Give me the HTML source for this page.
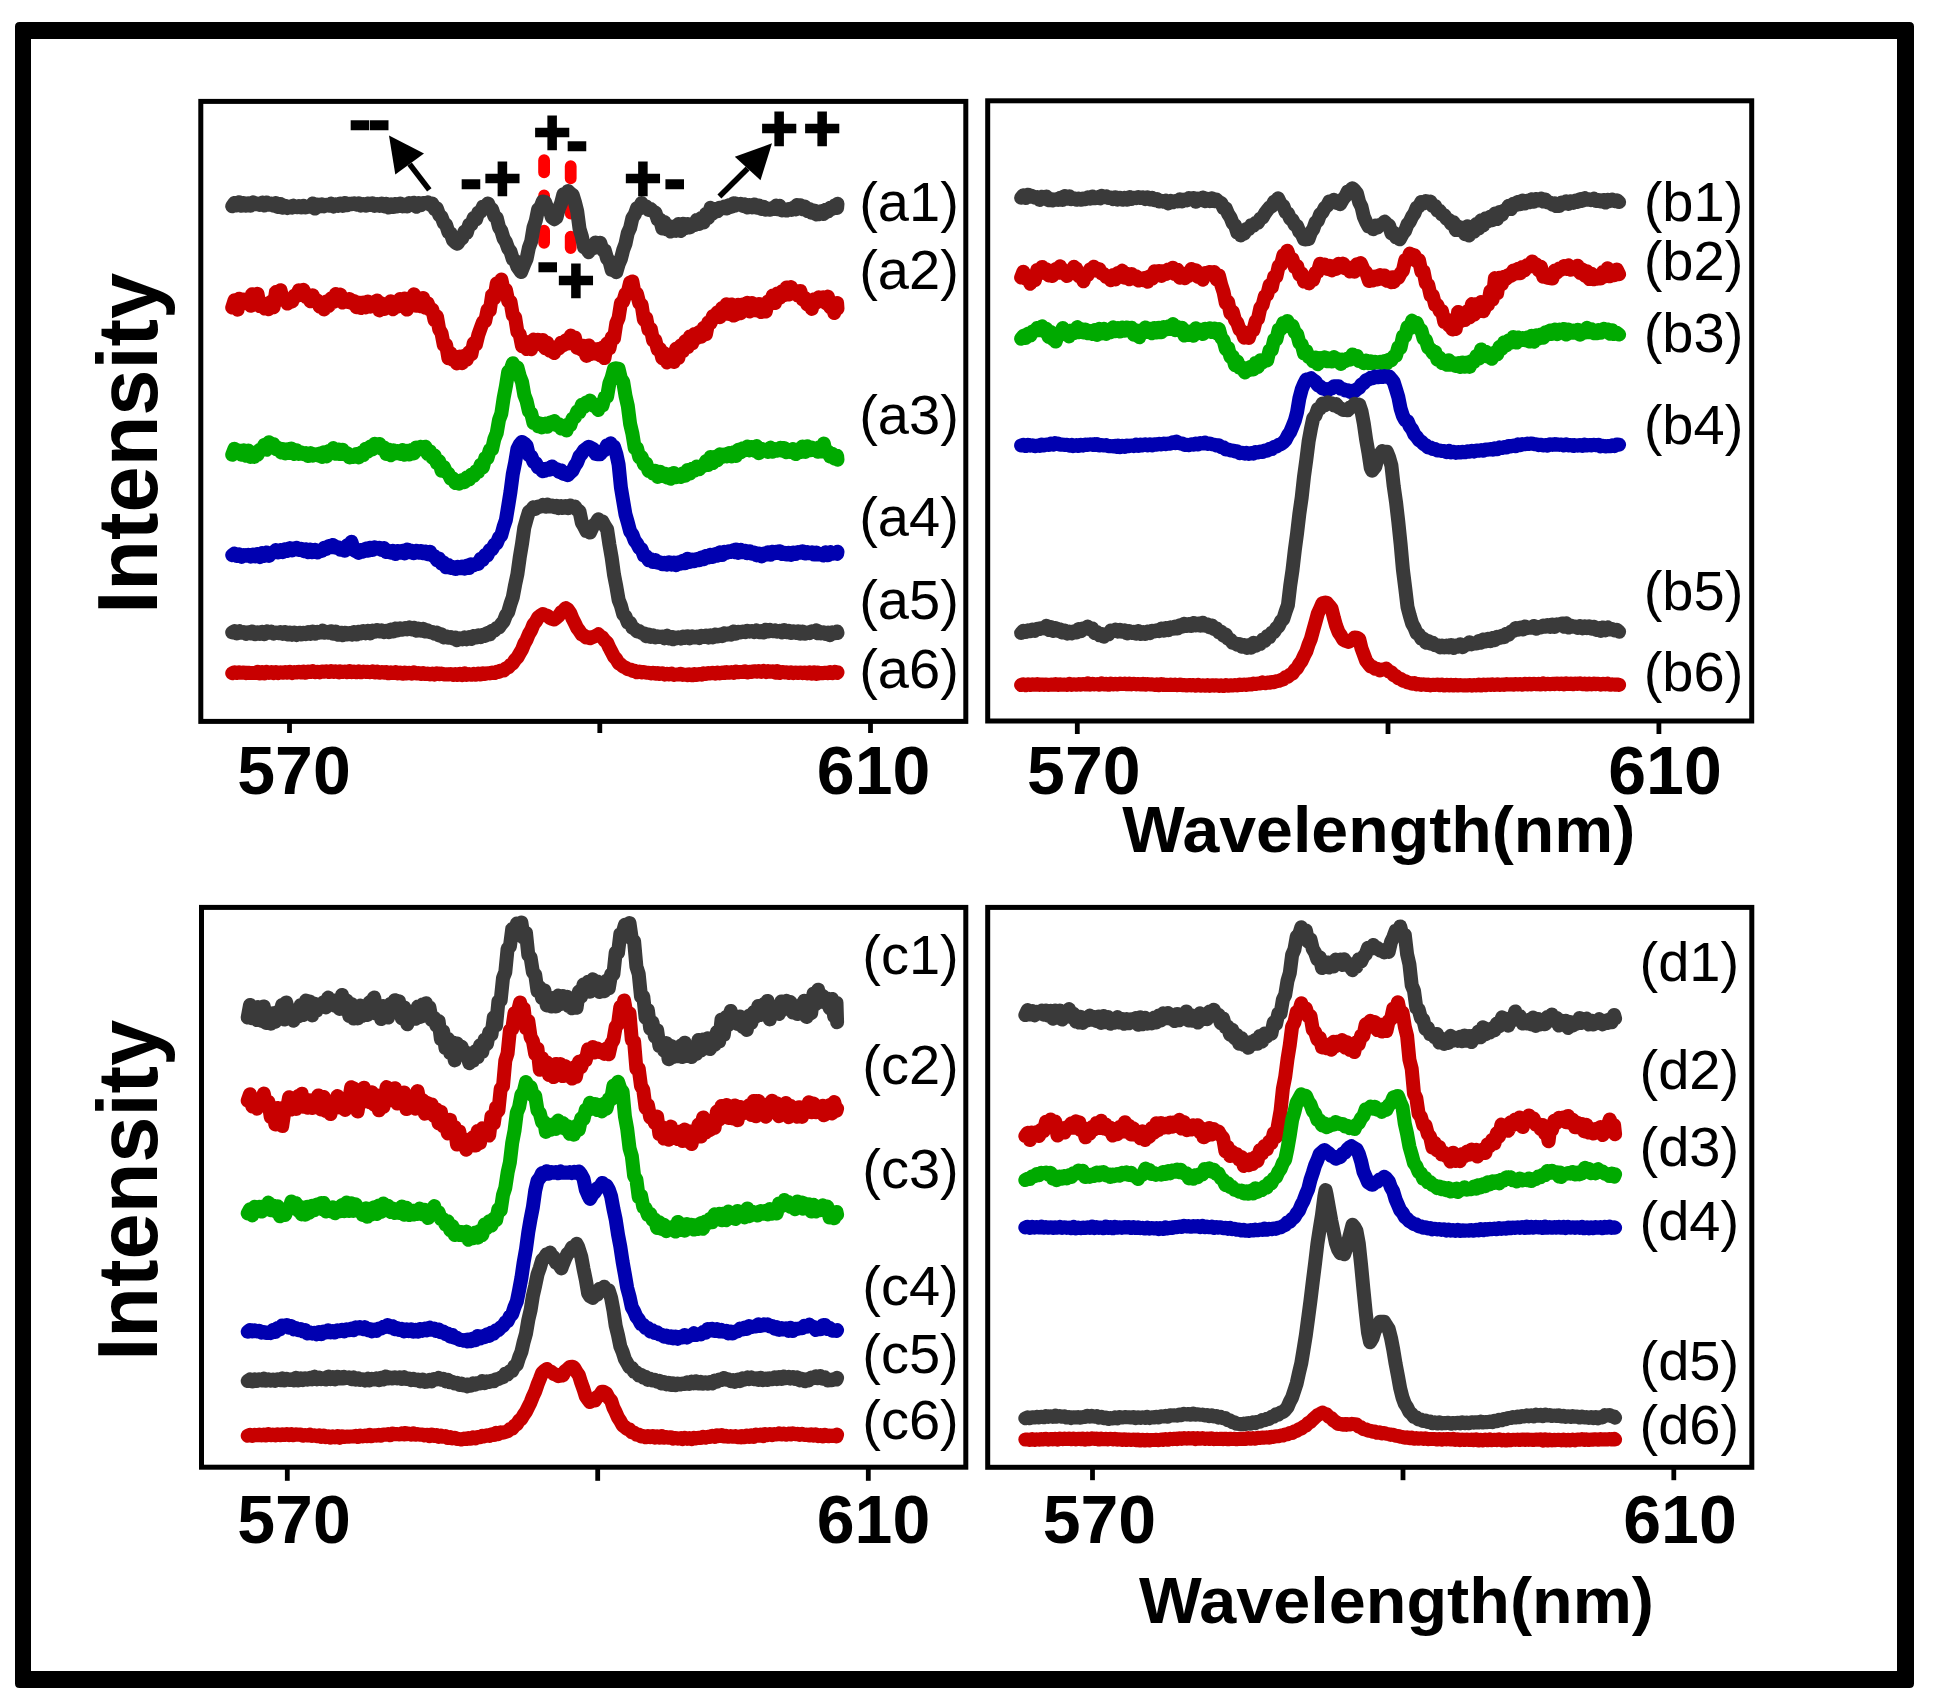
<!DOCTYPE html>
<html lang="en"><head><meta charset="utf-8"><title>Spectra figure</title><style>
html,body{margin:0;padding:0;background:#fff;}
body{width:1933px;height:1706px;overflow:hidden;}
text{font-family:"Liberation Sans",sans-serif;fill:#000;}
.tl{font-weight:bold;font-size:68px;text-anchor:middle;}
.cl{font-size:56px;text-anchor:middle;}
.ax{font-weight:bold;font-size:86px;}
.wl{font-weight:bold;font-size:65px;}
.pm{font-weight:bold;font-size:63px;stroke:#000;stroke-width:2.6px;}
</style></head><body>
<svg width="1933" height="1706" viewBox="0 0 1933 1706" style="display:block">
<rect x="0" y="0" width="1933" height="1706" fill="#fff"/>
<path fill="#000" fill-rule="evenodd" d="M19.5 22 H1909.5 Q1914 22 1914 26.5 V1683.5 Q1914 1688 1909.5 1688 H19.5 Q15 1688 15 1683.5 V26.5 Q15 22 19.5 22 Z M31 39 V1671 H1897 V39 Z"/>
<g stroke="#ff0000" stroke-width="11.8" stroke-linecap="round" stroke-dasharray="12.2 23" fill="none">
<path d="M544.1 160.2 V243.2"/>
<path d="M570.7 166.2 V248"/>
</g>
<path d="M232.2 206.3 L234.5 203.0 L236.8 205.6 L239.1 202.2 L241.4 205.8 L243.7 202.9 L246.0 205.7 L248.3 203.2 L250.6 205.7 L252.9 202.3 L255.2 204.2 L257.5 203.5 L259.8 204.8 L262.4 202.6 L264.4 205.5 L266.7 202.5 L269.0 204.6 L271.3 203.5 L273.6 205.7 L275.9 202.9 L278.2 207.1 L280.5 204.0 L282.8 207.8 L285.1 205.8 L287.4 208.0 L289.7 206.5 L292.0 207.5 L293.5 205.7 L296.6 207.2 L298.9 206.0 L301.2 207.3 L303.5 205.8 L305.8 207.4 L308.1 206.6 L310.4 206.7 L312.7 203.5 L315.0 208.6 L317.3 204.6 L319.6 206.3 L321.9 204.2 L324.2 206.2 L326.5 204.7 L328.8 205.7 L331.1 203.6 L333.4 206.7 L335.7 204.2 L338.0 206.0 L340.3 203.6 L342.6 206.0 L344.9 202.9 L347.2 205.3 L349.5 203.7 L351.8 204.2 L354.1 203.2 L356.4 204.6 L358.7 203.3 L361.0 205.6 L363.3 204.0 L365.9 205.6 L367.9 203.4 L370.2 204.9 L372.5 203.4 L374.8 205.7 L377.1 204.2 L379.4 205.8 L381.7 203.5 L384.0 206.4 L386.3 203.8 L388.6 207.6 L390.9 204.3 L393.2 207.1 L395.5 203.9 L396.9 206.4 L400.1 203.4 L402.4 206.4 L404.7 204.4 L407.0 206.5 L409.3 203.3 L411.6 204.4 L413.9 202.7 L416.2 206.8 L418.5 203.1 L420.8 205.2 L423.1 202.9 L425.4 203.3 L427.7 202.4 L430.0 204.6 L432.3 203.6 L434.6 208.8 L436.9 208.5 L439.2 215.0 L441.5 216.9 L443.8 223.0 L446.1 224.8 L448.4 232.1 L450.7 233.4 L453.0 240.2 L455.9 243.0 L457.6 243.7 L459.9 239.9 L462.2 238.3 L464.5 231.4 L466.8 232.8 L469.1 224.9 L471.4 224.5 L473.7 217.9 L476.0 219.6 L478.3 212.6 L480.6 212.0 L482.9 206.8 L485.2 206.9 L488.0 203.4 L489.8 207.9 L492.1 209.3 L494.4 216.4 L496.7 217.6 L499.0 227.2 L501.3 230.8 L503.6 238.6 L505.9 241.9 L508.2 248.6 L510.5 251.6 L512.8 259.2 L515.1 260.5 L517.4 266.8 L519.7 270.2 L521.1 272.1 L524.3 264.1 L526.6 258.9 L528.9 247.6 L531.2 241.4 L533.5 227.5 L535.8 220.6 L538.1 209.4 L540.4 207.5 L542.7 201.4 L543.9 203.5 L545.0 201.9 L547.3 208.1 L549.6 209.9 L551.9 217.3 L554.2 219.2 L556.5 217.6 L558.8 208.7 L561.1 203.3 L563.4 194.2 L565.7 195.7 L568.0 191.0 L570.8 193.8 L572.6 194.7 L574.9 202.0 L577.2 211.2 L579.5 228.7 L581.8 236.3 L584.1 247.3 L586.4 248.1 L588.7 252.2 L590.0 247.6 L593.3 248.4 L595.6 242.5 L598.3 244.8 L600.2 242.7 L602.5 249.8 L604.8 250.3 L607.1 258.5 L609.4 261.0 L611.7 269.9 L614.8 270.8 L616.3 272.2 L618.6 264.3 L620.9 259.0 L623.2 249.9 L625.5 243.8 L627.8 232.9 L630.1 228.1 L632.4 217.9 L634.7 214.6 L637.0 208.2 L639.3 208.5 L641.6 203.0 L643.8 206.7 L646.2 206.4 L648.5 209.8 L650.8 209.1 L653.1 211.5 L655.4 212.6 L657.7 219.4 L660.0 219.6 L662.3 228.4 L664.6 222.1 L666.9 229.5 L669.2 226.2 L670.7 231.6 L673.8 226.5 L676.1 230.9 L678.4 223.9 L680.7 231.1 L683.0 223.8 L685.3 228.0 L687.6 224.0 L689.9 227.5 L692.2 225.4 L694.5 225.0 L696.8 219.9 L699.1 223.9 L701.4 217.9 L703.7 222.4 L706.0 213.8 L708.3 217.9 L710.6 207.8 L712.9 213.4 L715.2 209.2 L717.5 211.3 L719.8 207.7 L722.1 208.2 L724.4 206.6 L726.7 208.5 L729.0 205.1 L731.3 206.9 L733.6 203.2 L734.9 205.7 L735.9 203.5 L738.2 204.6 L740.5 203.8 L742.8 206.0 L745.1 204.3 L747.4 207.5 L749.7 205.0 L752.0 207.4 L754.3 204.4 L756.6 207.7 L758.9 205.5 L761.2 209.0 L763.5 206.8 L765.9 209.6 L768.1 208.5 L770.4 209.7 L772.7 207.8 L775.0 209.0 L776.2 205.5 L777.3 209.2 L779.6 205.8 L781.9 210.5 L784.2 209.2 L786.6 210.5 L788.8 209.1 L791.1 209.9 L793.4 207.4 L795.7 209.4 L796.9 205.1 L798.0 208.4 L800.3 205.2 L802.6 209.2 L804.9 206.5 L807.2 211.0 L809.5 209.0 L811.8 212.8 L814.1 210.5 L816.4 214.5 L817.6 211.5 L818.7 214.3 L821.0 211.3 L823.3 214.1 L825.6 209.8 L827.9 211.6 L830.2 207.7 L832.5 208.8 L834.8 205.3 L837.1 208.0 L837.5 203.8" fill="none" stroke="#3a3a3a" stroke-width="14.0" stroke-linejoin="round" stroke-linecap="round"/>
<path d="M232.2 307.6 L234.5 300.3 L237.6 309.7 L239.1 298.8 L241.4 304.0 L243.7 299.5 L246.0 302.9 L248.3 298.7 L250.6 305.8 L252.1 294.2 L255.2 301.0 L257.5 293.8 L259.8 306.1 L262.1 302.9 L264.4 308.4 L266.7 305.8 L268.6 309.2 L271.3 301.7 L273.6 307.3 L275.9 292.1 L279.0 298.3 L280.5 290.2 L282.8 300.1 L285.1 298.6 L287.4 303.6 L289.3 299.7 L292.0 301.7 L294.3 295.6 L296.6 296.1 L298.9 290.3 L301.2 295.0 L303.5 289.8 L305.8 296.9 L308.0 295.4 L310.4 301.3 L312.7 295.2 L315.0 301.5 L317.3 300.4 L319.6 306.6 L322.4 305.3 L324.2 309.4 L326.5 301.5 L328.8 306.0 L331.1 298.3 L333.4 302.1 L335.7 294.1 L339.0 300.9 L340.3 294.6 L342.6 302.5 L344.9 299.8 L347.2 301.9 L349.5 299.0 L351.8 303.0 L354.1 300.9 L356.4 307.2 L359.7 302.7 L361.0 308.1 L363.3 302.5 L365.6 307.4 L367.9 301.5 L370.2 306.7 L372.1 302.6 L374.8 304.7 L377.1 300.5 L379.4 310.4 L381.7 303.3 L384.5 309.0 L386.3 305.9 L388.6 307.4 L390.9 301.2 L393.2 309.3 L395.5 303.3 L397.8 306.5 L400.1 299.0 L402.4 302.9 L404.7 298.4 L407.0 309.6 L409.3 299.0 L411.6 301.1 L413.9 294.3 L416.2 305.8 L417.6 298.3 L420.8 306.3 L423.1 297.9 L425.4 307.7 L427.7 303.3 L430.0 309.7 L432.3 309.5 L434.6 320.4 L436.9 316.3 L439.2 329.4 L441.5 333.1 L443.8 345.1 L446.1 344.7 L448.4 358.3 L450.7 353.2 L453.0 359.9 L455.3 358.7 L456.9 363.4 L459.9 356.5 L462.2 363.2 L464.5 355.8 L466.8 359.8 L469.1 352.1 L471.4 354.4 L473.7 343.2 L476.0 344.5 L478.3 334.8 L480.6 328.4 L482.9 322.0 L485.2 321.2 L487.5 309.8 L489.8 310.6 L492.1 295.0 L494.4 298.3 L496.7 283.5 L499.0 288.6 L501.4 279.6 L503.6 289.9 L505.9 289.6 L508.2 301.0 L510.5 301.8 L512.8 315.2 L515.1 317.2 L517.4 331.8 L519.7 334.4 L522.0 346.1 L524.3 341.4 L526.6 349.0 L529.4 342.7 L531.2 349.2 L533.5 339.6 L535.8 344.7 L537.6 339.7 L540.4 344.0 L542.7 339.9 L545.0 348.2 L547.3 342.8 L549.6 350.6 L551.9 347.8 L554.2 353.1 L556.5 347.0 L558.8 348.7 L561.1 342.7 L563.4 345.3 L565.7 340.4 L568.0 343.6 L570.8 335.5 L572.6 343.1 L574.9 337.4 L577.2 347.9 L579.5 345.1 L581.8 350.0 L583.2 345.7 L586.4 355.9 L588.7 345.4 L591.0 354.1 L593.3 348.7 L595.6 353.7 L597.9 349.0 L600.2 355.3 L602.5 347.6 L604.5 358.1 L607.1 343.6 L609.4 348.5 L611.7 337.4 L614.0 338.5 L616.3 323.3 L618.6 318.0 L620.9 303.2 L623.2 301.5 L625.5 293.8 L627.8 292.1 L630.1 282.4 L631.4 288.2 L632.4 281.5 L634.7 294.0 L637.0 294.0 L639.3 303.2 L641.6 304.8 L643.9 319.8 L646.2 317.9 L648.5 329.8 L650.8 328.9 L653.1 340.5 L655.4 340.4 L657.7 349.6 L660.0 348.8 L662.3 358.3 L664.6 353.3 L666.9 362.4 L669.2 356.2 L671.5 359.7 L672.8 354.9 L673.8 362.0 L676.1 348.8 L678.4 358.0 L680.7 345.6 L683.0 351.3 L685.3 341.1 L687.6 347.2 L689.9 336.5 L692.2 343.4 L694.5 333.9 L696.8 338.2 L699.1 332.0 L701.4 336.8 L703.7 327.8 L706.0 334.1 L708.3 322.4 L710.6 323.1 L712.9 316.3 L715.2 316.3 L717.5 312.2 L719.8 317.2 L722.1 308.0 L724.4 313.9 L726.6 304.3 L729.0 313.9 L731.3 304.4 L733.6 315.6 L734.9 308.7 L735.9 314.4 L738.2 304.7 L740.5 313.2 L742.8 304.4 L745.2 309.0 L747.4 302.8 L749.7 311.5 L752.0 303.0 L754.3 310.3 L755.5 307.3 L756.6 310.4 L758.9 303.9 L761.2 312.1 L763.5 304.5 L765.8 311.5 L768.1 301.4 L770.4 303.8 L772.7 295.6 L775.0 303.0 L777.3 293.6 L779.6 297.9 L781.9 291.2 L784.5 295.2 L786.5 287.4 L788.8 294.6 L791.1 287.1 L793.4 293.6 L795.7 292.4 L798.0 295.6 L800.3 290.9 L802.6 299.3 L804.9 297.9 L807.2 304.4 L809.3 300.7 L811.8 308.9 L814.1 299.3 L816.4 302.5 L818.7 297.3 L821.0 301.1 L823.3 297.2 L825.9 303.3 L827.9 296.6 L830.2 307.4 L832.5 303.8 L834.2 313.0 L837.1 302.9 L837.5 308.6" fill="none" stroke="#c80000" stroke-width="14.0" stroke-linejoin="round" stroke-linecap="round"/>
<path d="M232.2 454.8 L234.5 448.7 L236.8 453.0 L239.1 450.5 L241.7 454.7 L243.7 450.3 L246.0 455.8 L248.3 450.5 L250.6 457.0 L252.9 453.1 L254.1 456.9 L255.2 452.6 L257.5 454.7 L259.8 449.7 L262.1 449.5 L264.4 444.8 L266.7 449.8 L269.0 442.2 L270.7 445.1 L273.6 444.4 L275.9 449.1 L278.2 447.7 L281.1 452.5 L282.8 448.9 L285.1 453.4 L287.4 449.2 L289.7 452.9 L291.4 448.5 L294.3 454.1 L296.6 450.3 L298.9 453.9 L301.2 452.4 L303.5 454.1 L305.8 453.2 L308.1 456.0 L310.4 453.1 L312.7 455.6 L315.0 454.3 L318.3 455.5 L319.6 453.5 L321.9 456.9 L324.2 452.2 L326.5 456.4 L328.8 451.0 L331.1 453.4 L333.4 448.1 L335.7 453.7 L339.0 449.5 L340.3 454.1 L342.6 449.7 L344.9 454.3 L347.2 453.1 L349.5 457.4 L351.8 455.6 L353.5 457.0 L356.4 454.0 L358.7 457.5 L361.0 452.7 L363.3 455.1 L365.6 448.8 L367.9 451.6 L370.2 446.6 L372.5 449.4 L374.8 443.7 L376.2 446.4 L379.4 443.9 L381.7 448.9 L384.0 447.3 L386.3 454.1 L388.6 449.5 L390.9 455.3 L393.2 450.2 L395.5 453.4 L397.8 450.9 L400.1 453.9 L402.4 450.0 L404.7 454.8 L407.0 450.7 L409.3 454.5 L411.6 449.9 L413.9 453.4 L416.2 447.5 L418.5 449.6 L420.8 446.8 L422.8 448.5 L425.4 446.7 L427.7 454.0 L430.0 451.2 L432.3 457.8 L434.6 455.6 L436.9 463.1 L439.2 461.3 L441.5 470.7 L443.8 466.9 L446.1 472.1 L448.4 473.6 L450.7 478.7 L453.0 478.6 L455.3 483.1 L457.6 480.8 L459.0 483.7 L462.2 480.0 L464.5 482.2 L466.8 477.4 L469.1 479.6 L471.4 474.5 L473.7 476.0 L476.0 471.2 L478.3 472.0 L480.6 464.8 L482.9 467.3 L485.2 458.2 L487.5 458.0 L489.8 449.9 L492.1 449.1 L494.4 438.8 L496.7 433.2 L499.0 419.9 L501.3 413.8 L503.6 398.3 L505.9 386.3 L508.2 371.9 L510.5 369.9 L512.8 363.2 L515.9 368.0 L517.4 367.4 L519.7 376.1 L522.0 381.8 L524.3 395.0 L526.6 401.0 L528.9 411.2 L531.2 413.4 L533.5 423.0 L535.8 421.9 L538.1 426.2 L540.4 423.4 L541.8 427.4 L545.0 423.6 L547.3 426.8 L549.6 422.6 L551.9 424.4 L554.2 421.1 L556.5 425.2 L558.8 424.1 L561.1 428.5 L563.4 427.3 L566.6 430.5 L568.0 424.5 L570.3 425.4 L572.6 418.4 L574.9 417.5 L577.2 411.7 L579.5 412.0 L581.8 404.8 L584.1 406.8 L586.4 402.3 L588.7 404.6 L590.0 400.6 L593.3 405.8 L595.6 404.7 L598.3 410.0 L600.2 405.3 L602.5 405.4 L604.8 397.0 L607.1 396.5 L609.4 383.3 L611.7 377.5 L614.0 368.7 L615.9 368.2 L618.6 368.9 L620.9 378.7 L623.2 381.9 L625.5 395.9 L627.8 405.8 L630.1 423.9 L632.4 433.7 L634.7 447.8 L637.0 448.1 L639.3 457.4 L641.6 457.0 L643.9 464.2 L646.2 463.3 L648.5 470.8 L650.8 470.2 L653.1 473.7 L655.4 470.8 L657.7 476.9 L660.0 471.7 L662.3 476.1 L664.6 473.5 L666.9 477.5 L669.2 474.3 L670.7 478.8 L673.8 472.9 L676.1 477.3 L678.4 475.9 L680.7 477.1 L683.0 473.4 L685.3 475.7 L687.6 470.0 L689.9 473.6 L692.2 468.7 L694.5 470.7 L696.8 466.4 L699.1 469.3 L701.4 466.7 L703.7 466.1 L706.0 461.1 L708.3 464.9 L710.6 456.9 L712.9 463.1 L715.2 456.8 L717.5 460.2 L719.8 454.3 L722.1 456.9 L724.4 454.5 L726.7 456.5 L729.0 453.0 L731.3 456.4 L733.6 452.3 L735.9 456.0 L738.2 449.8 L740.5 452.4 L742.8 448.3 L745.1 450.3 L747.3 446.5 L749.7 450.4 L752.0 446.9 L754.3 450.7 L756.6 446.1 L758.9 453.2 L761.2 448.7 L763.5 450.0 L765.8 449.5 L768.0 452.0 L770.4 447.6 L772.7 451.7 L775.0 449.3 L777.3 450.6 L780.4 447.8 L781.9 450.7 L784.2 447.9 L786.5 452.3 L788.8 451.0 L791.1 452.0 L792.8 449.1 L795.7 454.1 L798.0 449.3 L800.3 452.3 L802.6 446.5 L805.2 451.9 L807.2 446.2 L809.5 450.3 L811.8 447.6 L814.1 449.9 L816.4 448.3 L817.6 451.8 L818.7 447.5 L821.0 451.4 L823.8 443.5 L825.6 452.1 L827.9 451.3 L830.2 456.6 L832.5 453.8 L834.8 458.7 L837.1 455.7 L837.5 459.7" fill="none" stroke="#00aa00" stroke-width="14.0" stroke-linejoin="round" stroke-linecap="round"/>
<path d="M232.2 555.2 L234.5 553.4 L236.8 555.8 L239.1 554.5 L241.7 556.7 L243.7 555.1 L246.0 555.7 L248.3 554.7 L250.6 556.5 L252.9 554.5 L255.2 556.6 L257.5 554.1 L259.8 557.2 L262.1 553.1 L264.4 555.9 L266.7 552.4 L269.0 555.9 L271.3 552.7 L273.6 552.7 L275.9 550.0 L278.2 552.6 L280.5 550.0 L282.8 552.2 L285.1 549.2 L287.4 551.0 L289.7 548.1 L292.0 550.5 L294.3 548.3 L295.5 549.6 L296.6 547.7 L298.9 549.8 L301.2 548.8 L303.5 550.9 L305.8 549.2 L308.1 552.3 L310.4 549.5 L312.1 552.3 L315.0 549.8 L317.3 552.5 L319.6 550.6 L321.9 551.0 L324.2 547.7 L326.5 548.8 L328.8 546.1 L331.1 547.3 L332.8 544.9 L335.7 547.7 L338.0 547.3 L340.3 549.7 L343.1 548.8 L344.9 550.8 L347.2 545.2 L349.5 545.8 L351.4 541.7 L354.1 550.4 L355.5 551.0 L358.7 552.8 L361.0 550.0 L363.3 551.7 L365.6 548.6 L367.9 550.8 L370.2 547.8 L372.5 550.1 L374.8 547.2 L376.2 548.8 L379.4 547.8 L381.7 550.0 L384.0 548.0 L386.3 552.0 L388.6 550.8 L390.9 552.7 L392.8 550.8 L395.5 554.1 L397.8 551.0 L400.1 552.8 L402.4 550.7 L404.7 553.4 L407.0 549.4 L409.3 552.2 L411.6 550.7 L413.9 553.3 L416.2 550.8 L418.5 552.6 L420.8 550.9 L423.1 553.2 L425.4 551.5 L427.7 554.2 L430.0 551.7 L432.3 555.6 L434.6 556.1 L436.9 560.2 L439.2 558.7 L441.5 563.2 L443.8 562.7 L446.1 567.3 L448.4 565.1 L450.7 567.8 L453.0 567.0 L455.3 569.1 L457.6 566.9 L459.9 568.2 L462.2 566.7 L464.5 568.7 L467.3 565.5 L469.1 568.0 L471.4 564.4 L473.7 565.3 L476.0 563.7 L478.3 563.9 L480.6 559.0 L482.9 559.5 L485.2 555.0 L487.5 555.1 L489.8 549.9 L492.1 549.2 L494.4 544.7 L496.7 543.4 L499.0 537.7 L501.3 535.3 L503.6 526.7 L505.9 519.9 L508.2 506.0 L510.5 491.6 L512.8 474.0 L515.1 462.6 L517.4 449.0 L519.7 444.6 L522.0 441.9 L524.2 443.3 L526.6 445.7 L528.9 455.1 L531.2 456.2 L533.5 461.9 L535.8 463.0 L538.1 467.6 L540.4 468.2 L542.7 471.3 L543.9 469.1 L545.0 470.7 L547.3 468.5 L549.6 469.6 L552.1 466.4 L554.2 468.5 L556.5 469.0 L558.8 471.7 L561.1 470.4 L563.4 473.9 L565.7 472.9 L567.7 475.2 L570.3 472.6 L572.6 470.5 L574.9 465.7 L577.2 462.4 L579.5 456.2 L581.8 453.7 L584.1 450.2 L586.4 448.6 L588.7 446.7 L590.0 447.2 L593.3 449.1 L595.6 453.8 L598.3 454.3 L600.2 454.3 L602.5 451.3 L604.8 449.9 L607.1 445.2 L609.4 446.0 L610.7 443.3 L611.7 446.8 L614.0 446.7 L616.3 453.8 L618.6 464.5 L620.9 487.4 L623.2 501.2 L625.5 514.6 L627.8 522.4 L630.1 531.3 L632.4 534.5 L634.7 540.6 L637.0 543.5 L639.3 547.9 L641.6 549.3 L643.9 555.6 L646.2 556.1 L648.5 560.1 L650.8 559.4 L653.1 562.0 L655.4 559.9 L657.7 562.8 L660.0 562.3 L662.4 564.2 L664.6 562.8 L666.9 564.8 L669.2 562.3 L671.5 564.7 L673.8 562.5 L676.1 565.2 L678.4 562.4 L680.7 563.5 L683.0 560.7 L685.3 563.2 L687.6 558.8 L689.9 561.9 L692.2 559.6 L694.5 561.0 L696.8 559.0 L699.1 560.1 L701.4 557.4 L703.7 559.3 L706.0 555.9 L708.3 557.6 L710.6 554.7 L712.9 556.9 L715.2 554.3 L717.5 555.7 L719.8 552.3 L722.1 555.1 L724.4 551.8 L726.7 552.9 L729.0 551.2 L731.3 551.9 L733.6 550.2 L734.9 552.3 L735.9 549.4 L738.2 552.9 L740.5 549.8 L742.8 552.3 L745.1 550.7 L747.4 553.3 L749.7 551.3 L752.0 553.7 L754.3 552.6 L756.6 555.4 L758.9 553.6 L761.8 556.4 L763.5 553.6 L765.8 554.7 L768.1 552.3 L770.4 554.8 L772.7 551.7 L775.0 553.1 L776.2 551.8 L777.3 553.1 L779.6 551.3 L781.9 554.1 L784.2 552.8 L786.5 554.4 L788.7 552.9 L791.1 555.0 L793.4 552.6 L795.7 553.9 L798.0 552.1 L801.1 552.8 L802.6 551.2 L804.9 553.4 L807.2 552.0 L809.5 553.3 L811.8 552.4 L814.1 554.6 L816.4 552.4 L818.7 554.5 L821.0 554.1 L823.3 555.5 L825.9 552.2 L827.9 555.3 L830.2 552.1 L832.5 553.8 L834.8 553.2 L837.1 553.9 L837.5 551.7" fill="none" stroke="#0000b0" stroke-width="14.0" stroke-linejoin="round" stroke-linecap="round"/>
<path d="M232.2 632.4 L234.5 631.2 L236.8 633.5 L239.1 631.1 L241.4 632.8 L243.7 632.0 L246.0 633.9 L248.3 632.4 L250.6 633.6 L252.1 631.5 L255.2 634.1 L257.5 632.4 L259.8 633.9 L262.1 631.7 L264.4 634.3 L266.7 631.3 L269.0 632.8 L271.3 631.7 L273.6 633.6 L275.9 632.4 L278.2 633.2 L280.5 632.0 L282.8 633.8 L285.1 632.0 L287.4 634.5 L289.7 632.6 L292.0 634.9 L294.3 632.6 L296.6 634.9 L299.7 632.8 L301.2 634.5 L303.5 632.8 L305.8 634.1 L308.1 632.2 L310.4 634.0 L312.7 631.6 L315.0 633.8 L317.3 631.9 L319.6 632.6 L322.4 630.8 L324.2 632.7 L326.5 631.8 L328.8 632.7 L331.1 631.2 L333.4 633.8 L335.7 631.5 L338.0 634.8 L341.1 632.7 L342.6 635.2 L344.9 632.7 L347.2 634.5 L349.5 633.2 L351.8 634.7 L354.1 632.0 L356.4 634.5 L358.7 631.7 L361.0 633.4 L363.3 631.1 L365.6 633.4 L367.9 630.8 L370.2 633.4 L372.5 630.7 L374.8 631.7 L377.1 630.1 L379.4 631.5 L381.7 630.3 L384.0 632.1 L386.3 630.9 L388.6 632.1 L390.9 629.5 L393.2 631.6 L395.5 628.5 L397.8 630.3 L400.1 628.4 L402.4 629.6 L405.2 628.1 L407.0 629.3 L409.3 627.5 L411.6 629.4 L413.9 627.8 L416.2 630.7 L418.5 628.8 L420.8 630.7 L423.1 628.7 L425.4 631.6 L427.7 630.3 L430.0 632.2 L432.3 632.1 L434.6 633.7 L436.9 632.5 L439.2 635.5 L441.5 634.3 L443.8 637.5 L446.1 636.3 L448.4 637.8 L450.7 637.1 L453.0 638.5 L455.3 637.4 L456.9 640.2 L459.9 638.2 L462.2 639.3 L464.5 637.4 L466.8 639.2 L469.1 637.3 L471.4 639.0 L473.7 635.9 L476.0 637.4 L478.3 635.4 L480.6 637.0 L482.9 634.9 L485.2 635.8 L487.5 632.8 L489.8 634.4 L492.1 630.8 L494.4 630.7 L496.7 628.0 L499.0 627.4 L501.3 624.1 L503.6 621.4 L505.9 615.4 L508.2 612.0 L510.5 603.9 L512.8 597.3 L515.1 584.9 L517.4 574.1 L519.7 557.7 L522.0 543.9 L524.3 527.6 L526.6 519.3 L528.9 511.7 L531.2 510.3 L533.5 507.2 L535.8 508.7 L538.1 506.5 L540.4 506.7 L542.7 504.9 L545.9 506.8 L547.3 504.5 L549.6 506.4 L551.9 505.5 L554.2 507.1 L556.5 505.9 L558.8 508.2 L561.1 506.1 L562.5 508.1 L565.7 506.1 L568.0 508.3 L570.3 505.5 L572.8 507.3 L574.9 506.6 L577.2 509.9 L579.5 511.4 L581.8 522.6 L584.1 526.5 L586.4 531.0 L588.7 530.6 L590.0 532.6 L593.3 525.5 L595.6 523.8 L598.3 519.2 L600.2 521.8 L602.5 521.6 L604.8 525.8 L607.1 529.3 L609.4 544.6 L611.7 557.8 L614.0 574.6 L616.3 586.4 L618.6 599.8 L620.9 605.6 L623.2 614.2 L625.5 616.5 L627.8 622.6 L630.1 622.8 L632.4 627.7 L634.7 628.8 L637.0 631.4 L639.3 631.1 L641.6 633.2 L643.9 633.2 L646.2 636.3 L648.5 634.5 L650.8 636.8 L653.1 635.4 L655.4 637.4 L657.7 636.3 L660.0 637.1 L662.3 636.5 L664.6 638.4 L666.9 635.6 L669.2 638.6 L671.5 637.0 L672.8 639.3 L673.8 637.2 L676.1 638.4 L678.4 637.2 L680.7 638.5 L683.0 636.6 L685.3 637.9 L687.6 636.2 L689.9 638.4 L692.2 636.3 L694.5 637.4 L696.8 636.5 L699.1 638.1 L701.4 635.8 L703.7 637.0 L706.0 635.6 L708.3 637.7 L710.6 635.3 L712.9 637.5 L715.2 634.4 L717.5 636.4 L719.8 634.7 L722.1 636.2 L724.4 633.2 L726.7 634.6 L729.0 633.3 L731.3 634.7 L733.6 631.5 L735.9 633.8 L738.2 631.8 L740.5 632.5 L742.8 631.4 L745.1 632.2 L747.4 630.7 L749.7 631.7 L752.0 630.9 L754.3 632.1 L756.6 630.5 L758.9 632.2 L761.2 631.0 L763.5 632.6 L765.8 629.8 L768.1 631.4 L770.0 629.9 L772.7 631.3 L775.0 630.3 L777.3 631.6 L779.6 630.8 L781.9 632.3 L784.2 630.0 L786.5 632.2 L788.8 630.9 L791.1 633.1 L793.4 631.4 L795.7 632.8 L798.0 631.5 L800.3 633.8 L802.6 631.4 L805.2 633.7 L807.2 632.5 L809.5 633.1 L811.8 631.2 L814.1 631.8 L816.4 630.3 L817.6 633.2 L818.7 631.5 L821.0 633.5 L823.3 632.4 L825.6 633.9 L827.9 632.7 L830.0 635.2 L832.5 632.4 L834.8 633.3 L837.1 631.5 L837.5 633.0" fill="none" stroke="#3a3a3a" stroke-width="14.0" stroke-linejoin="round" stroke-linecap="round"/>
<path d="M232.2 673.2 L234.5 672.3 L236.8 672.9 L239.1 672.3 L241.4 672.8 L243.7 672.4 L246.0 673.2 L248.3 672.7 L250.6 673.1 L252.9 672.9 L255.2 673.1 L257.5 671.9 L259.8 673.5 L262.1 672.1 L264.4 673.4 L266.7 671.9 L269.0 672.9 L271.3 672.1 L273.6 673.2 L275.9 672.1 L278.2 673.2 L280.5 672.2 L282.8 672.8 L285.1 672.0 L287.4 672.7 L289.7 671.7 L292.0 673.1 L294.3 672.1 L296.6 672.5 L298.9 671.8 L301.2 672.5 L303.5 671.5 L305.8 672.7 L308.1 671.6 L310.4 672.1 L312.7 671.1 L315.0 672.3 L317.3 671.7 L319.6 672.4 L321.9 671.4 L324.2 671.8 L326.5 671.2 L328.8 672.1 L331.1 671.1 L333.4 671.9 L335.7 671.3 L339.0 672.4 L340.3 671.4 L342.6 672.1 L344.9 671.5 L347.2 672.2 L349.5 671.0 L351.8 672.2 L354.1 671.4 L356.4 672.3 L358.7 671.3 L361.0 672.3 L363.3 671.5 L365.6 672.0 L367.9 671.7 L370.2 672.3 L372.5 671.4 L374.8 672.5 L377.1 671.6 L379.4 672.8 L381.7 671.9 L384.0 672.7 L386.3 672.0 L388.6 673.3 L390.9 672.3 L393.2 673.1 L395.5 672.1 L397.8 673.4 L400.1 672.6 L402.4 673.7 L404.7 672.5 L407.0 673.5 L409.3 672.7 L411.6 673.7 L413.9 672.4 L416.2 673.5 L418.5 672.9 L420.8 674.0 L423.1 673.0 L425.4 674.1 L427.7 673.5 L430.0 674.4 L432.3 673.6 L434.6 674.6 L436.9 673.2 L439.2 674.2 L441.5 673.6 L443.8 674.4 L446.6 674.2 L448.4 674.5 L450.7 673.9 L453.0 674.9 L455.3 674.0 L457.6 675.0 L459.9 673.9 L462.2 675.1 L464.5 673.3 L466.8 674.9 L469.1 674.1 L471.4 674.8 L473.7 673.8 L476.0 674.8 L478.3 673.6 L480.6 674.5 L482.9 673.3 L485.2 674.0 L487.5 673.2 L489.8 673.4 L492.1 672.6 L494.4 673.1 L496.7 671.8 L499.0 671.9 L501.3 670.4 L503.6 670.6 L505.9 668.4 L508.2 667.4 L510.5 664.9 L512.8 663.4 L515.1 659.7 L517.4 657.5 L519.7 653.4 L522.0 649.5 L524.3 643.6 L526.6 639.7 L528.9 634.0 L531.2 630.3 L533.5 624.4 L535.8 621.6 L538.1 617.5 L540.4 615.6 L542.8 614.0 L545.0 615.2 L547.3 615.6 L549.6 617.8 L551.9 618.8 L554.2 619.5 L556.5 617.7 L558.8 615.7 L561.1 612.3 L563.4 610.7 L565.7 608.1 L567.7 609.4 L570.3 613.0 L572.6 618.8 L574.9 623.2 L577.2 628.1 L579.5 631.1 L581.8 634.5 L584.1 635.6 L586.4 637.6 L588.7 637.3 L590.0 638.2 L593.3 636.8 L595.6 636.0 L598.3 634.3 L600.2 636.2 L602.5 637.6 L604.8 640.7 L607.1 642.6 L609.4 647.8 L611.7 652.1 L614.0 656.7 L616.3 659.1 L618.6 663.2 L620.9 664.6 L623.2 666.7 L625.5 667.5 L627.8 669.3 L630.1 669.4 L632.4 670.9 L634.7 670.8 L637.0 672.3 L639.3 671.4 L641.6 672.4 L643.9 671.9 L646.2 672.8 L648.5 672.7 L650.8 673.4 L653.1 672.8 L655.4 673.7 L657.7 673.0 L660.0 674.0 L662.3 673.2 L664.6 674.6 L666.9 673.8 L669.2 674.4 L671.5 673.5 L673.8 675.0 L676.1 674.5 L678.4 674.5 L680.7 673.8 L683.0 674.9 L685.3 674.7 L687.6 675.2 L689.3 674.3 L692.2 675.3 L694.5 674.0 L696.8 675.0 L699.1 673.9 L701.4 674.7 L703.7 673.3 L706.0 674.1 L708.3 672.9 L710.6 673.5 L712.9 672.7 L715.2 673.6 L717.5 672.5 L719.8 673.4 L722.1 672.6 L724.4 673.0 L726.7 672.0 L729.0 672.8 L731.3 672.1 L733.6 672.9 L735.9 671.6 L738.2 672.2 L740.5 671.9 L742.8 672.0 L745.1 671.3 L747.4 672.4 L749.7 671.8 L752.0 672.0 L754.3 671.2 L756.6 671.7 L758.9 671.1 L761.2 671.9 L763.5 670.9 L765.9 672.1 L768.1 671.1 L770.4 671.8 L772.7 671.2 L775.0 672.6 L777.3 671.1 L779.6 672.9 L781.9 672.0 L784.2 672.4 L786.5 672.3 L788.8 672.9 L791.1 672.3 L793.4 673.2 L795.7 672.4 L798.0 673.1 L800.3 672.4 L802.6 673.2 L804.9 672.4 L807.2 673.4 L809.5 672.4 L811.8 673.7 L814.1 672.4 L816.4 673.8 L817.6 672.6 L818.7 673.4 L821.0 672.9 L823.3 673.2 L825.6 672.7 L827.9 673.2 L830.2 672.0 L832.5 673.1 L834.8 671.9 L837.1 673.1 L837.5 672.2" fill="none" stroke="#c80000" stroke-width="14.0" stroke-linejoin="round" stroke-linecap="round"/>
<path d="M1021.1 197.8 L1023.4 195.2 L1025.7 198.0 L1028.0 194.7 L1030.3 196.7 L1031.7 195.8 L1034.9 197.6 L1037.2 197.0 L1039.5 199.9 L1041.8 196.7 L1044.1 198.8 L1046.4 196.6 L1048.7 200.3 L1051.0 199.1 L1052.4 200.5 L1055.6 199.2 L1057.9 199.9 L1060.2 197.7 L1062.5 200.0 L1064.8 196.0 L1066.9 198.8 L1069.4 196.3 L1071.7 199.2 L1074.0 198.4 L1076.3 199.7 L1078.6 198.5 L1081.4 199.8 L1083.2 198.6 L1085.5 199.2 L1087.8 197.3 L1090.1 198.6 L1092.4 196.5 L1094.7 198.3 L1097.0 197.3 L1100.0 198.3 L1101.6 195.8 L1103.9 197.1 L1106.2 196.3 L1108.5 197.9 L1110.8 197.4 L1113.1 199.1 L1115.4 197.3 L1117.7 199.5 L1120.0 197.9 L1122.8 199.8 L1124.6 197.7 L1126.9 199.8 L1129.2 197.1 L1131.5 198.9 L1133.1 197.7 L1136.1 198.2 L1138.4 197.0 L1140.7 198.0 L1143.0 197.2 L1145.3 199.0 L1147.6 197.5 L1149.9 199.4 L1152.2 198.0 L1154.5 200.1 L1156.8 199.1 L1159.1 201.5 L1161.4 200.8 L1163.7 201.7 L1166.0 200.5 L1168.3 203.5 L1170.6 200.9 L1172.9 202.3 L1175.2 201.1 L1177.5 201.4 L1179.8 199.2 L1182.1 201.5 L1184.4 199.5 L1186.9 200.4 L1189.0 198.1 L1191.3 199.4 L1193.6 198.1 L1195.9 201.8 L1198.2 198.6 L1200.5 199.4 L1202.8 197.5 L1205.1 201.2 L1207.4 198.8 L1209.7 201.2 L1212.0 198.3 L1214.3 201.2 L1216.6 199.8 L1218.9 202.0 L1221.2 202.9 L1223.5 208.0 L1225.8 208.4 L1228.1 213.9 L1230.4 217.3 L1232.7 223.2 L1235.0 225.4 L1237.3 232.6 L1239.6 233.2 L1240.7 235.4 L1241.9 234.3 L1244.2 233.7 L1246.5 229.0 L1248.8 229.0 L1251.1 225.4 L1253.4 225.8 L1255.7 222.7 L1258.0 222.8 L1260.3 218.5 L1262.6 217.7 L1264.9 213.5 L1267.2 210.4 L1269.5 207.5 L1271.8 206.3 L1274.1 201.7 L1276.4 201.7 L1278.0 198.3 L1281.0 204.6 L1283.3 205.7 L1285.6 212.3 L1287.9 213.2 L1290.2 218.7 L1292.5 220.1 L1294.8 224.8 L1297.1 226.0 L1299.4 231.8 L1301.7 234.0 L1304.0 239.3 L1305.9 239.4 L1308.6 239.0 L1310.9 232.4 L1313.2 229.2 L1315.5 222.5 L1317.8 220.8 L1320.1 214.3 L1322.4 212.5 L1324.7 207.8 L1327.0 205.9 L1329.3 201.5 L1331.8 201.7 L1333.9 199.8 L1336.2 203.0 L1338.5 202.8 L1340.1 204.2 L1343.1 199.0 L1345.4 196.3 L1347.7 191.6 L1350.0 190.7 L1352.3 188.2 L1354.5 190.2 L1356.9 193.3 L1359.2 202.3 L1361.5 206.7 L1363.8 216.7 L1366.1 221.9 L1368.4 226.3 L1370.7 225.7 L1373.2 229.2 L1375.3 225.6 L1377.6 227.5 L1379.9 224.8 L1382.2 224.7 L1384.5 221.6 L1386.2 223.4 L1389.1 225.4 L1391.4 233.3 L1393.7 232.4 L1396.0 237.3 L1398.3 236.8 L1399.7 239.3 L1402.9 233.4 L1405.2 230.7 L1407.5 224.4 L1409.8 221.7 L1412.1 216.6 L1414.4 213.4 L1416.7 207.5 L1419.0 206.4 L1421.3 201.9 L1423.6 203.4 L1425.9 201.1 L1428.6 202.2 L1430.5 201.6 L1432.8 206.1 L1435.1 206.1 L1437.4 210.5 L1439.7 210.7 L1442.0 214.6 L1444.3 215.1 L1446.6 219.0 L1448.9 219.8 L1451.2 224.0 L1453.5 222.2 L1455.8 230.1 L1458.1 226.6 L1460.4 230.4 L1462.7 227.8 L1465.0 234.2 L1467.3 226.3 L1469.0 235.5 L1471.9 227.1 L1474.2 231.7 L1476.5 224.0 L1478.8 228.5 L1481.1 220.3 L1483.4 225.4 L1485.7 218.2 L1488.0 221.3 L1490.3 216.6 L1492.6 220.2 L1494.9 213.5 L1497.2 219.0 L1499.5 212.1 L1501.8 214.9 L1504.1 210.5 L1506.4 209.8 L1508.7 205.7 L1511.0 209.1 L1513.3 203.7 L1515.6 205.2 L1517.9 201.9 L1520.2 204.3 L1522.5 200.6 L1524.8 203.5 L1527.1 200.9 L1529.4 202.3 L1531.7 199.2 L1534.0 201.8 L1536.3 199.0 L1538.6 200.4 L1541.4 198.6 L1543.2 201.6 L1545.5 199.6 L1547.8 202.6 L1550.1 202.6 L1552.4 204.5 L1554.7 203.2 L1555.9 206.0 L1557.0 203.7 L1559.3 206.0 L1561.6 202.7 L1563.9 203.5 L1566.2 201.2 L1568.5 203.9 L1570.8 201.2 L1573.1 202.7 L1575.4 200.7 L1577.7 201.9 L1580.0 199.1 L1582.3 200.9 L1584.6 198.1 L1586.9 199.8 L1589.2 199.2 L1591.1 200.1 L1593.8 198.7 L1596.1 201.0 L1598.4 200.0 L1600.7 201.4 L1603.5 199.9 L1605.3 202.6 L1607.6 199.8 L1609.9 201.1 L1612.2 199.7 L1614.5 201.1 L1616.8 200.2 L1619.1 202.1" fill="none" stroke="#3a3a3a" stroke-width="14.0" stroke-linejoin="round" stroke-linecap="round"/>
<path d="M1021.1 277.5 L1023.4 271.7 L1025.7 278.7 L1028.0 277.9 L1030.3 283.7 L1031.7 278.2 L1034.9 280.2 L1037.2 270.0 L1039.5 273.6 L1042.1 266.9 L1044.1 271.9 L1046.4 269.3 L1048.7 275.5 L1051.0 273.5 L1052.4 276.0 L1055.6 269.1 L1058.6 272.8 L1060.2 266.3 L1062.5 271.9 L1064.8 271.9 L1066.9 276.1 L1069.4 270.9 L1071.7 272.3 L1074.0 266.8 L1075.2 272.0 L1076.3 268.5 L1078.6 276.0 L1080.9 274.1 L1083.5 281.3 L1085.5 274.5 L1087.8 274.8 L1090.1 269.3 L1092.4 268.7 L1093.8 266.7 L1097.0 270.9 L1099.3 269.1 L1101.6 273.6 L1103.9 274.0 L1106.2 277.0 L1108.3 275.9 L1110.8 280.2 L1113.1 274.9 L1115.4 279.4 L1117.7 273.1 L1120.7 275.9 L1122.3 270.6 L1124.6 277.7 L1126.9 273.8 L1129.2 279.3 L1131.5 274.0 L1133.8 278.6 L1136.1 276.3 L1138.4 280.5 L1140.7 278.3 L1143.0 280.2 L1145.5 277.7 L1147.6 281.8 L1149.9 276.2 L1152.2 278.6 L1154.5 271.3 L1156.8 275.2 L1159.1 271.1 L1161.4 276.0 L1163.7 270.9 L1166.0 274.1 L1168.3 269.4 L1170.6 272.2 L1172.9 267.7 L1174.5 274.0 L1177.5 269.8 L1179.8 277.7 L1182.1 273.5 L1184.9 278.3 L1186.7 274.6 L1189.0 275.8 L1191.3 269.0 L1193.1 273.4 L1195.9 270.3 L1198.2 277.0 L1201.4 274.8 L1202.8 279.7 L1205.1 272.9 L1207.4 274.9 L1209.7 271.9 L1212.0 274.6 L1214.3 272.1 L1216.6 279.5 L1218.9 275.4 L1221.2 284.7 L1223.5 291.7 L1225.8 303.2 L1228.1 302.0 L1230.4 313.5 L1232.7 311.6 L1235.0 320.0 L1237.3 322.9 L1239.6 329.7 L1241.9 331.2 L1244.2 337.7 L1246.9 336.1 L1248.8 338.0 L1251.1 331.3 L1253.4 330.3 L1255.7 321.1 L1258.0 318.8 L1260.3 308.0 L1262.6 304.9 L1264.9 296.1 L1267.2 294.8 L1269.5 285.3 L1271.8 287.4 L1274.1 277.0 L1276.4 276.5 L1278.7 266.1 L1281.0 264.7 L1283.3 255.4 L1285.6 255.5 L1287.3 250.7 L1290.2 259.3 L1292.5 259.3 L1294.8 267.2 L1297.1 265.9 L1299.4 274.6 L1301.7 273.4 L1304.0 281.6 L1306.3 280.2 L1309.0 283.4 L1310.9 279.2 L1313.2 280.0 L1315.5 272.6 L1317.8 271.8 L1320.1 263.7 L1321.4 268.1 L1324.7 264.6 L1327.0 268.9 L1329.3 265.8 L1331.8 270.4 L1333.9 265.9 L1336.2 268.9 L1338.5 263.8 L1340.1 266.1 L1343.1 263.6 L1345.4 268.5 L1347.7 267.0 L1350.0 271.6 L1352.5 269.6 L1354.6 271.8 L1356.9 264.3 L1359.2 266.9 L1360.8 263.1 L1363.8 270.3 L1366.1 272.3 L1369.0 281.0 L1370.7 276.4 L1373.0 280.5 L1375.3 276.4 L1377.6 279.5 L1379.9 275.1 L1382.2 278.7 L1384.5 275.5 L1386.8 280.8 L1389.1 278.1 L1391.4 282.2 L1392.4 277.2 L1393.7 282.0 L1396.0 276.9 L1398.3 278.0 L1400.6 273.3 L1402.9 270.6 L1405.2 260.3 L1407.5 260.3 L1409.8 253.6 L1412.1 257.0 L1414.4 255.1 L1416.7 261.3 L1419.0 260.2 L1421.3 271.3 L1423.6 271.5 L1425.9 283.3 L1428.2 284.8 L1430.5 295.2 L1432.8 295.6 L1435.1 304.7 L1437.4 305.2 L1439.7 310.9 L1442.0 311.1 L1444.3 322.1 L1446.6 319.3 L1448.9 325.7 L1451.2 320.7 L1452.4 329.5 L1453.5 320.1 L1455.8 328.9 L1458.1 312.0 L1460.4 321.5 L1462.7 317.2 L1465.0 320.1 L1467.3 311.3 L1469.6 317.4 L1471.9 304.1 L1474.2 314.6 L1476.5 304.1 L1478.8 311.1 L1481.1 302.1 L1483.4 311.2 L1485.7 305.9 L1488.0 304.9 L1490.3 291.3 L1492.6 299.5 L1494.9 278.1 L1497.2 293.2 L1499.5 277.8 L1501.8 284.4 L1504.1 276.7 L1506.4 278.7 L1508.7 274.9 L1511.0 275.8 L1513.3 270.6 L1515.6 273.7 L1517.9 268.8 L1520.2 273.3 L1522.5 266.9 L1524.8 270.2 L1527.1 265.1 L1529.4 266.2 L1532.1 261.4 L1534.0 266.8 L1536.3 264.3 L1538.6 270.3 L1540.9 266.8 L1543.2 276.8 L1545.5 274.4 L1547.8 277.9 L1549.7 278.2 L1552.4 278.6 L1554.7 270.6 L1557.0 272.5 L1559.3 268.5 L1561.6 269.5 L1563.9 266.0 L1566.2 268.9 L1568.5 265.3 L1570.8 269.8 L1573.1 267.8 L1575.4 268.8 L1577.7 265.8 L1580.0 272.9 L1582.3 269.6 L1584.6 275.5 L1586.9 271.2 L1589.2 279.0 L1591.5 273.7 L1593.8 279.2 L1596.1 276.5 L1597.3 278.8 L1598.4 276.3 L1600.7 278.6 L1603.0 271.9 L1605.6 276.3 L1607.6 268.3 L1609.9 276.3 L1612.2 272.5 L1614.5 275.2 L1616.8 269.5 L1619.1 274.3" fill="none" stroke="#c80000" stroke-width="14.0" stroke-linejoin="round" stroke-linecap="round"/>
<path d="M1021.1 338.8 L1023.5 335.6 L1025.7 337.9 L1028.0 333.6 L1030.3 335.6 L1032.6 331.4 L1034.9 330.9 L1037.2 327.9 L1039.5 330.2 L1042.1 326.3 L1044.1 331.3 L1046.4 328.8 L1048.7 337.0 L1051.0 332.1 L1053.3 339.6 L1054.5 334.4 L1055.6 341.6 L1057.9 335.1 L1060.2 334.0 L1062.8 328.0 L1064.8 333.9 L1067.1 331.1 L1069.0 336.5 L1071.7 330.4 L1074.0 333.2 L1077.3 327.1 L1078.6 332.3 L1080.9 329.1 L1083.2 332.4 L1085.5 329.5 L1087.6 333.3 L1090.1 330.9 L1092.4 334.0 L1094.7 330.0 L1097.0 334.9 L1099.3 328.8 L1101.6 333.5 L1103.9 328.8 L1106.2 333.9 L1108.5 330.8 L1110.8 332.2 L1113.1 327.3 L1115.4 331.2 L1117.7 328.1 L1120.0 331.6 L1122.3 327.5 L1124.6 330.7 L1126.9 327.4 L1129.0 329.7 L1131.5 327.8 L1133.8 334.8 L1136.1 330.3 L1139.3 337.3 L1140.7 330.7 L1143.5 329.8 L1145.3 327.4 L1147.6 332.0 L1149.9 328.7 L1151.8 333.3 L1154.5 328.0 L1156.8 332.5 L1159.1 327.7 L1161.4 332.3 L1163.7 327.0 L1166.2 329.5 L1168.3 326.4 L1170.6 329.0 L1172.9 324.0 L1175.2 330.2 L1177.5 326.9 L1179.8 330.1 L1182.1 327.7 L1184.4 335.6 L1186.9 331.3 L1189.0 335.0 L1191.3 331.2 L1193.6 335.8 L1195.9 328.2 L1198.2 333.1 L1200.5 329.7 L1202.8 334.1 L1205.1 328.8 L1207.6 331.6 L1209.7 328.2 L1212.0 332.1 L1214.3 328.5 L1216.6 333.3 L1218.9 329.1 L1221.2 337.7 L1223.5 340.2 L1225.8 349.1 L1228.1 347.7 L1230.4 356.8 L1232.7 356.4 L1235.0 365.1 L1237.3 361.4 L1239.6 367.7 L1241.9 367.4 L1244.9 372.4 L1246.5 368.2 L1248.8 370.2 L1251.1 366.7 L1253.4 369.4 L1255.7 362.9 L1258.0 366.9 L1260.3 360.3 L1262.6 362.3 L1264.9 359.7 L1267.2 360.4 L1269.5 350.5 L1271.8 350.0 L1274.1 340.0 L1276.4 339.4 L1278.7 329.5 L1281.0 329.0 L1283.3 322.9 L1285.6 324.9 L1287.3 320.9 L1290.2 326.8 L1292.5 325.8 L1294.8 332.4 L1297.1 334.1 L1299.4 343.0 L1301.7 344.4 L1304.0 353.6 L1306.3 350.9 L1308.6 357.1 L1310.9 357.9 L1313.2 361.4 L1315.5 357.5 L1317.8 364.3 L1320.1 358.1 L1321.4 361.3 L1324.7 357.2 L1327.0 361.3 L1329.3 358.5 L1331.8 361.6 L1333.9 357.1 L1336.2 360.8 L1338.5 359.1 L1340.8 364.0 L1342.1 359.4 L1345.4 361.1 L1347.7 358.6 L1350.0 359.7 L1352.5 354.4 L1354.6 358.9 L1356.9 355.9 L1359.2 361.1 L1361.5 361.2 L1363.8 363.2 L1366.1 360.5 L1368.4 363.2 L1370.7 361.2 L1373.0 363.3 L1375.3 361.7 L1377.6 362.6 L1380.0 361.8 L1382.2 363.2 L1384.5 361.1 L1386.8 363.5 L1389.1 359.7 L1391.4 360.1 L1393.7 356.3 L1396.0 355.7 L1398.3 347.5 L1400.6 347.5 L1402.9 336.5 L1405.2 336.1 L1407.5 327.0 L1409.8 328.5 L1412.1 320.6 L1415.2 325.9 L1416.7 322.8 L1419.0 328.8 L1421.3 330.1 L1423.6 338.7 L1425.9 340.1 L1428.2 347.6 L1430.5 349.1 L1432.8 353.1 L1435.1 351.7 L1437.4 359.7 L1439.7 357.6 L1442.0 363.0 L1444.3 360.7 L1446.6 364.8 L1448.9 360.2 L1450.4 364.8 L1453.5 363.2 L1455.8 366.0 L1458.1 363.1 L1460.4 367.0 L1462.7 362.4 L1465.0 366.8 L1467.3 362.5 L1469.6 366.9 L1471.9 360.9 L1474.2 361.8 L1476.5 355.8 L1478.8 358.8 L1481.1 349.4 L1483.5 354.6 L1485.7 351.7 L1488.0 356.8 L1490.3 355.6 L1491.7 358.8 L1494.9 352.5 L1497.2 354.5 L1499.5 346.8 L1501.8 348.7 L1504.1 342.3 L1506.4 345.4 L1508.7 340.2 L1511.0 342.8 L1513.3 337.0 L1516.6 342.6 L1517.9 337.4 L1520.2 340.3 L1522.5 338.0 L1524.8 340.2 L1527.1 337.6 L1529.4 341.6 L1531.7 335.8 L1534.0 341.7 L1536.3 335.2 L1538.6 338.7 L1540.9 334.4 L1543.2 337.7 L1545.5 332.2 L1547.8 334.5 L1550.1 330.4 L1551.8 334.0 L1554.7 329.5 L1557.0 334.2 L1559.3 329.5 L1561.6 332.4 L1563.9 328.9 L1566.2 334.5 L1568.5 329.5 L1570.8 332.8 L1573.1 330.6 L1574.5 332.8 L1577.7 329.7 L1580.0 334.7 L1582.8 331.9 L1584.6 332.7 L1586.9 327.8 L1589.2 332.3 L1591.5 329.3 L1593.8 333.2 L1596.1 331.3 L1597.3 333.3 L1598.4 330.1 L1600.7 332.8 L1603.5 328.8 L1605.3 330.9 L1607.6 329.4 L1609.9 333.8 L1612.2 330.2 L1613.8 334.1 L1616.8 332.9 L1619.1 334.6" fill="none" stroke="#00aa00" stroke-width="14.0" stroke-linejoin="round" stroke-linecap="round"/>
<path d="M1021.1 445.4 L1023.4 444.8 L1025.7 446.0 L1028.0 444.8 L1030.3 445.7 L1032.6 445.3 L1034.9 446.2 L1037.9 445.4 L1039.5 445.9 L1041.8 444.5 L1044.1 445.5 L1046.4 444.4 L1048.7 444.9 L1051.0 443.5 L1053.3 444.7 L1054.5 443.1 L1055.6 443.9 L1057.9 443.5 L1060.2 444.7 L1062.5 444.4 L1064.8 445.0 L1067.1 444.7 L1069.4 445.7 L1071.7 444.9 L1073.1 446.1 L1076.3 445.0 L1078.6 446.0 L1080.9 444.7 L1083.2 445.6 L1085.5 444.4 L1087.8 445.1 L1090.1 444.2 L1092.4 444.9 L1094.7 444.0 L1095.9 445.1 L1097.0 444.1 L1099.3 445.5 L1101.6 444.9 L1103.9 445.6 L1106.2 445.1 L1108.5 446.3 L1110.8 446.0 L1113.1 446.5 L1115.4 445.8 L1116.6 446.9 L1117.7 445.6 L1120.0 447.1 L1122.3 445.8 L1124.6 446.9 L1126.9 445.5 L1129.2 446.2 L1131.5 445.4 L1133.8 446.1 L1136.1 444.6 L1138.4 445.9 L1140.7 444.5 L1143.0 445.4 L1145.3 444.2 L1147.6 445.4 L1149.9 444.2 L1152.2 445.5 L1154.5 444.2 L1156.8 444.7 L1159.1 443.8 L1161.4 444.4 L1163.7 443.6 L1166.0 444.2 L1168.3 443.4 L1170.6 443.7 L1172.9 442.2 L1175.2 443.2 L1176.6 441.7 L1179.8 443.4 L1182.1 443.5 L1184.4 445.0 L1186.9 444.8 L1189.0 445.3 L1191.3 444.2 L1193.6 444.7 L1195.9 443.5 L1198.2 444.4 L1200.5 443.1 L1203.5 443.6 L1205.1 442.5 L1207.4 444.0 L1209.7 443.4 L1212.0 444.4 L1214.3 444.6 L1216.6 445.6 L1218.9 445.2 L1221.2 447.2 L1223.5 447.2 L1225.8 449.5 L1228.1 449.4 L1230.4 450.4 L1232.7 450.4 L1235.0 451.5 L1237.3 451.3 L1239.6 453.2 L1241.9 452.7 L1244.9 453.7 L1246.5 452.9 L1248.8 453.9 L1251.1 452.9 L1253.4 453.7 L1255.7 452.0 L1258.0 452.6 L1260.3 451.4 L1262.6 452.0 L1264.9 450.6 L1267.2 450.7 L1269.5 448.7 L1271.8 449.1 L1274.1 446.9 L1276.4 446.5 L1278.7 444.8 L1281.0 444.2 L1283.3 442.3 L1285.6 439.9 L1287.9 435.3 L1290.2 432.0 L1292.5 426.5 L1294.8 420.7 L1297.1 411.9 L1299.4 398.2 L1301.7 389.4 L1304.0 383.9 L1306.3 379.5 L1308.6 379.2 L1311.1 378.2 L1313.2 380.2 L1315.5 381.7 L1317.8 385.2 L1320.1 386.4 L1322.4 388.3 L1324.7 388.8 L1327.6 390.7 L1329.3 388.9 L1331.6 388.4 L1333.9 386.2 L1335.9 386.2 L1338.5 386.3 L1340.8 388.8 L1343.1 388.9 L1345.4 390.6 L1347.7 390.2 L1350.0 391.9 L1352.3 390.8 L1354.5 391.5 L1356.9 389.2 L1359.2 387.8 L1361.5 384.4 L1363.8 383.2 L1366.1 380.2 L1368.4 379.5 L1370.7 377.8 L1373.0 378.2 L1375.3 376.5 L1377.6 377.3 L1380.0 376.2 L1382.2 377.1 L1384.5 376.1 L1386.8 376.8 L1389.1 376.5 L1391.4 379.1 L1393.7 382.1 L1396.0 389.3 L1398.3 397.0 L1400.6 408.6 L1402.9 415.9 L1405.2 420.2 L1407.5 421.0 L1409.8 426.5 L1412.1 429.4 L1414.4 434.5 L1416.7 436.9 L1419.0 440.1 L1421.3 441.6 L1423.6 444.1 L1425.9 445.3 L1428.2 447.6 L1430.5 447.4 L1432.8 449.1 L1435.1 448.9 L1437.4 450.5 L1439.7 450.4 L1442.0 451.1 L1444.3 451.0 L1446.6 452.1 L1448.9 450.9 L1451.2 452.5 L1453.5 451.7 L1455.8 452.9 L1458.6 452.0 L1460.4 452.5 L1462.7 451.8 L1465.0 452.3 L1467.3 451.3 L1469.6 451.8 L1471.9 450.7 L1474.2 451.6 L1476.5 450.4 L1478.8 450.8 L1481.1 450.1 L1483.4 450.8 L1485.7 449.4 L1488.0 449.8 L1490.3 448.9 L1492.6 449.7 L1494.9 448.3 L1497.2 449.2 L1499.5 447.4 L1501.8 448.1 L1504.1 447.1 L1506.4 447.6 L1508.7 445.9 L1511.0 446.4 L1513.3 445.6 L1515.6 446.2 L1517.9 444.4 L1520.2 445.3 L1522.5 444.1 L1524.8 444.3 L1527.1 443.6 L1529.0 444.0 L1531.7 443.4 L1534.0 444.2 L1536.3 444.2 L1538.6 445.2 L1541.4 444.7 L1543.2 445.6 L1545.5 445.0 L1547.8 445.7 L1550.1 444.2 L1552.4 444.9 L1554.7 444.1 L1555.9 444.7 L1557.0 444.2 L1559.3 444.9 L1561.6 444.5 L1563.9 445.4 L1566.2 444.3 L1568.5 445.4 L1570.8 444.9 L1573.1 446.0 L1574.5 445.1 L1577.7 445.7 L1580.0 444.9 L1582.3 445.9 L1584.6 444.6 L1586.9 445.6 L1589.2 445.0 L1591.1 445.4 L1593.8 444.7 L1596.1 445.3 L1598.4 444.8 L1600.7 446.4 L1603.0 445.7 L1605.3 446.6 L1607.6 445.9 L1609.9 446.3 L1612.2 445.3 L1614.5 446.1 L1616.8 444.4 L1619.1 444.7" fill="none" stroke="#0000b0" stroke-width="14.0" stroke-linejoin="round" stroke-linecap="round"/>
<path d="M1021.1 633.1 L1023.4 630.8 L1025.7 632.0 L1028.0 630.2 L1030.3 631.1 L1032.6 629.6 L1034.9 630.8 L1037.2 628.8 L1039.5 629.0 L1041.8 628.0 L1044.1 628.4 L1046.4 625.7 L1048.7 630.0 L1051.0 627.1 L1053.3 630.9 L1055.6 628.0 L1057.9 630.9 L1060.2 629.4 L1062.5 632.6 L1064.8 630.6 L1067.1 633.7 L1069.4 631.7 L1071.7 633.5 L1073.1 631.5 L1076.3 632.5 L1078.6 629.0 L1080.9 631.3 L1083.2 628.2 L1085.5 628.4 L1087.6 626.6 L1090.1 629.4 L1092.4 628.4 L1094.7 633.2 L1097.0 632.2 L1099.3 635.1 L1102.1 634.1 L1103.9 636.7 L1106.2 634.1 L1108.5 634.3 L1110.8 630.5 L1112.4 631.2 L1115.4 629.6 L1117.7 631.7 L1120.0 629.7 L1122.3 631.7 L1124.6 630.5 L1126.9 633.4 L1129.2 631.0 L1131.5 632.9 L1133.8 631.8 L1136.1 633.8 L1138.4 631.1 L1140.7 634.0 L1143.5 632.1 L1145.3 634.1 L1147.6 631.4 L1149.9 633.2 L1152.2 630.8 L1154.5 631.5 L1156.8 630.2 L1159.1 631.2 L1161.4 628.6 L1163.7 630.8 L1166.0 628.1 L1168.3 630.3 L1170.6 627.5 L1172.9 628.7 L1175.2 626.4 L1177.5 628.6 L1179.8 625.5 L1182.1 626.6 L1184.4 623.7 L1186.9 626.1 L1189.0 623.9 L1191.3 626.1 L1193.6 623.0 L1195.9 625.4 L1198.2 623.5 L1200.5 625.8 L1202.8 622.8 L1205.1 625.6 L1207.4 624.4 L1209.7 627.4 L1212.0 625.5 L1214.3 629.1 L1216.6 628.6 L1218.9 632.1 L1221.2 631.8 L1223.5 635.8 L1225.8 634.5 L1228.1 638.9 L1230.4 639.6 L1232.7 642.9 L1235.0 643.2 L1237.3 644.8 L1239.6 644.0 L1241.9 646.8 L1244.2 645.1 L1246.9 647.9 L1248.8 645.1 L1251.1 647.7 L1253.4 642.7 L1255.7 645.8 L1258.0 643.0 L1260.3 643.7 L1262.6 640.0 L1264.9 640.9 L1267.2 636.4 L1269.5 637.0 L1271.8 632.6 L1274.1 632.1 L1276.4 628.1 L1278.7 626.1 L1281.0 621.1 L1283.3 619.0 L1285.6 611.7 L1287.9 605.2 L1290.2 585.7 L1292.5 570.0 L1294.8 550.1 L1297.1 533.1 L1299.4 513.4 L1301.7 497.4 L1304.0 476.6 L1306.3 459.9 L1308.6 441.6 L1310.9 428.9 L1313.2 418.2 L1315.5 415.5 L1317.8 409.1 L1320.1 408.6 L1322.4 403.6 L1324.7 405.4 L1327.6 402.3 L1329.3 403.5 L1331.6 403.2 L1333.9 405.4 L1336.2 404.3 L1338.5 407.3 L1340.8 408.3 L1343.1 410.1 L1345.2 409.9 L1347.7 410.3 L1350.0 407.4 L1352.3 407.1 L1354.5 403.8 L1356.9 406.2 L1359.2 404.6 L1361.5 411.2 L1363.8 423.5 L1366.1 439.5 L1368.4 452.5 L1370.7 467.7 L1372.1 470.7 L1375.3 466.6 L1377.6 458.2 L1379.9 454.5 L1382.2 451.1 L1384.1 452.1 L1386.8 451.7 L1389.1 457.4 L1391.4 465.5 L1393.7 486.1 L1396.0 501.9 L1398.3 521.8 L1400.6 543.9 L1402.9 569.6 L1405.2 587.8 L1407.5 607.0 L1409.8 615.8 L1412.1 623.6 L1414.4 627.7 L1416.7 633.3 L1419.0 634.5 L1421.3 638.7 L1423.6 638.8 L1425.9 642.7 L1428.2 641.0 L1430.5 643.6 L1432.8 642.8 L1435.1 645.3 L1437.4 645.2 L1440.0 647.2 L1442.0 645.4 L1444.3 647.4 L1446.6 645.4 L1448.9 647.5 L1451.2 645.1 L1453.5 648.0 L1455.8 645.6 L1458.1 646.7 L1460.4 644.2 L1462.7 647.2 L1465.0 645.3 L1467.3 644.6 L1469.6 642.2 L1471.9 644.3 L1474.2 643.2 L1476.5 643.6 L1478.8 641.0 L1481.1 642.8 L1483.4 639.4 L1485.7 641.4 L1488.0 638.8 L1490.3 641.2 L1492.6 638.0 L1494.9 640.2 L1497.2 637.0 L1499.5 638.0 L1501.8 635.6 L1504.1 637.2 L1506.4 633.7 L1508.7 634.8 L1511.0 631.5 L1513.3 631.3 L1515.6 628.0 L1517.9 629.5 L1520.2 627.8 L1522.5 629.6 L1524.8 626.5 L1527.1 628.2 L1529.4 627.4 L1531.7 627.7 L1534.0 626.0 L1536.3 628.7 L1538.6 627.1 L1540.9 627.5 L1543.2 625.5 L1545.5 626.7 L1547.8 625.1 L1550.1 626.9 L1552.4 624.5 L1554.7 627.1 L1557.0 624.4 L1559.3 625.2 L1562.1 623.4 L1563.9 626.7 L1566.2 623.3 L1568.5 627.6 L1570.8 625.6 L1573.1 626.8 L1575.4 626.5 L1577.7 627.8 L1580.0 626.3 L1582.3 628.4 L1584.6 626.4 L1586.9 628.0 L1589.2 626.4 L1591.5 628.5 L1593.8 626.8 L1596.1 629.7 L1599.3 628.0 L1600.7 630.9 L1603.0 627.4 L1605.3 630.4 L1607.6 627.3 L1609.9 629.5 L1612.2 629.1 L1614.5 630.4 L1616.8 629.8 L1619.1 631.8" fill="none" stroke="#3a3a3a" stroke-width="14.0" stroke-linejoin="round" stroke-linecap="round"/>
<path d="M1021.1 685.0 L1023.4 684.3 L1025.7 685.2 L1028.0 684.3 L1030.3 684.9 L1032.6 684.3 L1034.9 684.8 L1037.2 684.0 L1039.5 684.9 L1041.8 684.4 L1044.1 684.9 L1046.4 684.4 L1048.7 685.0 L1051.0 684.5 L1053.3 684.8 L1055.6 684.0 L1057.9 684.9 L1060.2 684.3 L1062.5 684.8 L1064.8 684.5 L1067.1 685.0 L1069.4 683.9 L1071.7 685.0 L1074.0 684.2 L1076.3 684.8 L1078.6 684.1 L1080.9 684.7 L1083.2 683.9 L1085.5 684.6 L1087.8 683.3 L1090.1 684.6 L1092.4 683.8 L1094.7 684.4 L1097.0 684.1 L1099.3 684.7 L1101.6 683.4 L1103.9 684.5 L1106.2 683.8 L1108.5 684.8 L1110.8 683.5 L1113.1 684.4 L1115.4 683.8 L1117.7 684.4 L1120.0 683.6 L1122.3 684.1 L1124.9 683.6 L1126.9 684.3 L1129.2 683.5 L1131.5 684.4 L1133.8 683.7 L1136.1 684.4 L1138.4 684.0 L1140.7 684.6 L1143.0 683.8 L1145.3 684.7 L1147.6 684.0 L1149.9 684.5 L1152.2 684.2 L1154.5 685.1 L1156.8 684.3 L1159.1 685.2 L1161.4 684.0 L1163.7 685.0 L1166.0 684.7 L1168.3 685.1 L1170.6 684.6 L1172.9 685.1 L1175.2 684.6 L1177.5 685.3 L1179.8 684.4 L1182.1 685.2 L1184.4 684.9 L1186.7 685.6 L1189.0 684.9 L1191.3 685.4 L1193.6 684.9 L1195.9 685.8 L1198.2 684.7 L1200.5 685.8 L1202.8 685.2 L1205.1 685.8 L1207.4 685.1 L1209.7 686.0 L1212.0 685.2 L1214.3 685.7 L1216.6 685.2 L1218.9 685.9 L1221.2 685.3 L1223.5 686.1 L1225.8 685.1 L1228.3 685.8 L1230.4 685.2 L1232.7 685.6 L1235.0 685.0 L1237.3 685.5 L1239.6 684.6 L1241.9 685.1 L1244.2 684.5 L1246.5 685.1 L1248.8 684.2 L1251.1 684.6 L1253.4 683.6 L1255.7 684.1 L1258.0 683.4 L1260.3 683.6 L1262.6 682.4 L1264.9 683.3 L1267.2 682.5 L1269.5 682.7 L1271.8 682.0 L1274.1 682.2 L1276.4 681.2 L1278.7 680.9 L1281.0 680.0 L1283.3 679.3 L1285.6 677.2 L1287.9 676.8 L1290.2 674.6 L1292.5 673.6 L1294.8 670.1 L1297.1 668.1 L1299.4 663.9 L1301.7 660.9 L1304.0 655.8 L1306.3 651.5 L1308.6 644.4 L1310.9 638.8 L1313.2 630.2 L1315.5 622.1 L1317.8 613.6 L1320.1 608.6 L1322.4 603.3 L1325.6 602.4 L1327.0 603.0 L1329.3 605.7 L1331.6 608.6 L1333.9 617.9 L1336.2 626.1 L1338.5 632.1 L1340.8 635.3 L1343.1 639.5 L1345.4 640.7 L1348.3 641.9 L1350.0 641.1 L1352.3 639.9 L1354.5 637.5 L1356.9 637.7 L1359.2 638.9 L1361.5 648.4 L1363.8 654.5 L1366.1 660.7 L1368.4 663.7 L1370.7 666.5 L1373.0 667.1 L1375.3 668.8 L1377.6 669.0 L1380.0 670.5 L1382.2 669.4 L1384.5 669.6 L1386.2 668.6 L1389.1 671.6 L1391.4 672.2 L1393.7 675.2 L1396.0 676.1 L1398.3 678.4 L1400.6 678.8 L1402.9 680.8 L1405.2 681.1 L1407.5 682.4 L1409.8 682.8 L1412.1 683.7 L1414.4 683.1 L1416.7 684.4 L1419.0 684.0 L1421.3 684.9 L1423.6 684.2 L1425.9 685.1 L1428.2 684.4 L1430.5 685.4 L1432.8 684.7 L1435.1 685.1 L1437.4 684.5 L1439.7 685.2 L1442.0 684.6 L1444.3 685.6 L1446.6 684.7 L1448.9 685.5 L1451.2 684.8 L1453.5 685.6 L1455.8 684.8 L1458.1 685.6 L1460.4 685.0 L1462.8 685.5 L1465.0 685.2 L1467.3 685.5 L1469.6 684.9 L1471.9 685.7 L1474.2 684.9 L1476.5 685.5 L1478.8 684.6 L1481.1 685.5 L1483.4 684.6 L1485.7 685.2 L1488.0 684.5 L1490.3 685.0 L1492.6 684.3 L1494.9 685.1 L1497.2 684.2 L1499.5 685.0 L1501.8 684.4 L1504.1 684.9 L1506.4 684.0 L1508.7 684.6 L1511.0 684.2 L1513.3 684.7 L1515.6 684.0 L1517.9 684.6 L1520.2 683.9 L1522.5 684.8 L1524.8 683.7 L1527.1 684.5 L1529.4 683.8 L1531.7 684.5 L1534.0 683.7 L1536.3 684.3 L1538.6 683.8 L1540.9 684.6 L1543.2 683.4 L1545.5 684.4 L1547.8 683.7 L1550.1 684.3 L1552.4 683.7 L1554.7 684.2 L1557.0 683.4 L1559.3 684.2 L1561.6 683.4 L1563.9 684.4 L1566.2 683.3 L1568.5 684.1 L1570.8 683.6 L1573.1 684.2 L1575.4 683.5 L1577.7 684.1 L1580.0 683.2 L1582.3 684.3 L1584.6 683.5 L1586.9 684.5 L1589.2 683.6 L1591.5 684.4 L1593.8 683.5 L1596.1 684.2 L1598.4 683.7 L1600.7 684.7 L1603.0 683.7 L1605.3 684.5 L1607.6 683.6 L1609.9 684.8 L1612.2 684.3 L1614.5 684.7 L1616.8 684.4 L1619.1 684.9" fill="none" stroke="#c80000" stroke-width="14.0" stroke-linejoin="round" stroke-linecap="round"/>
<path d="M247.7 1017.5 L250.0 1005.0 L252.1 1018.3 L254.6 1010.7 L256.9 1020.1 L258.3 1007.1 L261.5 1020.9 L263.8 1006.4 L266.1 1023.0 L268.6 1013.6 L270.7 1023.7 L273.0 1013.3 L275.3 1021.7 L277.6 1011.9 L279.9 1015.0 L282.2 1004.9 L284.5 1019.6 L286.2 1002.5 L289.1 1013.7 L291.4 1012.0 L293.5 1020.7 L296.0 1010.4 L298.3 1016.5 L300.6 1005.2 L302.9 1015.1 L305.9 1000.6 L307.5 1011.8 L309.8 1001.5 L312.1 1015.4 L314.2 1003.7 L316.7 1010.6 L319.0 1004.2 L321.3 1006.7 L323.6 1002.3 L325.9 1007.4 L328.2 997.6 L330.7 1002.5 L332.8 1000.2 L335.1 1005.8 L336.9 1001.7 L339.7 1008.9 L342.0 994.9 L344.2 1006.2 L346.6 1000.4 L349.3 1016.0 L351.2 1003.9 L353.5 1018.6 L355.8 1007.3 L357.6 1018.4 L360.4 1005.6 L362.7 1015.8 L365.9 1009.2 L367.3 1015.0 L369.6 1002.3 L372.1 1001.0 L374.2 997.4 L376.5 1014.0 L378.8 1008.1 L381.1 1019.1 L383.4 1006.1 L384.5 1017.0 L385.7 1007.7 L388.0 1017.6 L390.3 1004.0 L392.6 1010.3 L394.9 1000.2 L397.2 1009.2 L399.0 1001.3 L401.8 1018.4 L404.1 1007.4 L407.3 1024.3 L408.7 1011.1 L411.0 1019.5 L413.3 1012.3 L415.6 1018.8 L417.9 1006.6 L420.2 1016.9 L422.5 1004.4 L424.8 1013.6 L425.9 1003.3 L427.1 1016.1 L429.4 1007.3 L431.7 1019.9 L434.0 1017.7 L436.3 1025.5 L438.6 1020.9 L440.9 1039.2 L443.2 1031.4 L445.5 1048.2 L447.8 1038.9 L450.1 1053.0 L452.4 1042.4 L454.7 1060.4 L457.0 1043.5 L459.3 1049.7 L461.6 1046.7 L463.9 1054.8 L466.2 1052.5 L469.4 1063.2 L470.8 1054.8 L473.1 1060.8 L475.4 1051.1 L477.7 1057.3 L480.0 1045.3 L482.3 1051.9 L484.6 1039.5 L486.9 1044.2 L489.2 1032.2 L491.5 1034.7 L493.8 1017.2 L496.1 1025.3 L498.4 1001.5 L500.7 1000.3 L503.0 978.0 L505.3 972.1 L507.6 948.6 L509.9 946.7 L512.2 929.0 L514.5 935.7 L516.8 923.6 L519.0 932.0 L521.4 922.5 L523.7 938.0 L526.0 932.9 L528.3 955.0 L530.6 957.5 L532.9 972.3 L535.2 974.6 L537.5 991.1 L539.8 987.2 L542.1 998.2 L544.4 990.4 L546.7 1005.4 L549.0 997.9 L551.3 1006.5 L554.2 997.7 L555.9 1006.5 L558.2 995.5 L560.4 1004.1 L562.8 996.0 L565.1 1003.4 L567.4 996.8 L568.7 1006.1 L569.7 1000.2 L572.0 1008.3 L574.3 1001.8 L576.6 1007.7 L578.9 991.6 L581.2 996.8 L583.5 984.6 L585.8 989.1 L588.1 981.7 L590.0 991.7 L592.7 979.3 L595.0 988.9 L597.3 981.5 L599.6 992.0 L602.4 984.4 L604.2 991.2 L606.5 980.7 L608.8 988.4 L611.1 974.3 L613.4 974.3 L615.7 952.4 L618.0 953.0 L620.3 934.1 L622.6 933.2 L624.9 924.8 L627.2 929.7 L629.5 923.0 L631.8 938.9 L634.1 941.2 L636.4 966.7 L638.7 973.9 L641.0 996.7 L643.3 996.6 L645.6 1017.9 L647.9 1010.3 L650.2 1028.6 L652.5 1022.3 L654.8 1036.5 L657.1 1030.0 L659.4 1046.1 L661.7 1042.6 L664.0 1050.6 L666.3 1043.1 L668.6 1059.2 L670.9 1045.8 L672.8 1057.1 L675.5 1048.4 L677.8 1056.3 L681.1 1045.4 L682.4 1057.0 L684.7 1042.7 L687.0 1055.9 L689.3 1053.5 L691.6 1057.1 L693.9 1047.8 L696.2 1054.0 L698.5 1039.9 L700.8 1050.7 L703.1 1039.5 L705.4 1046.9 L707.7 1038.3 L710.0 1049.1 L712.3 1045.0 L714.6 1045.0 L716.9 1031.9 L719.2 1041.4 L721.5 1019.5 L723.8 1034.9 L726.1 1017.0 L728.6 1024.8 L730.7 1011.0 L733.0 1020.6 L735.3 1016.8 L737.6 1023.9 L739.9 1016.4 L743.1 1027.2 L744.5 1018.0 L746.8 1029.9 L749.1 1015.8 L751.4 1022.9 L753.7 1012.1 L756.0 1016.5 L758.3 1005.9 L760.6 1014.9 L763.8 1004.1 L765.2 1013.2 L767.5 1000.9 L769.8 1019.4 L772.1 1007.5 L774.4 1010.0 L776.7 1008.2 L779.0 1013.9 L781.3 1001.4 L783.6 1009.3 L786.6 1000.8 L788.2 1006.3 L790.5 1002.1 L792.8 1012.5 L794.9 1006.0 L797.4 1014.1 L799.7 1006.1 L801.1 1006.8 L804.3 1000.8 L806.6 1017.0 L809.3 1006.8 L811.2 1013.2 L813.5 993.6 L815.6 1004.1 L818.1 989.7 L820.4 1001.9 L822.7 995.7 L825.0 1002.4 L827.3 998.6 L829.6 1008.2 L831.9 998.9 L834.2 1016.5 L836.5 1002.8 L837.1 1022.3" fill="none" stroke="#3a3a3a" stroke-width="14.0" stroke-linejoin="round" stroke-linecap="round"/>
<path d="M247.7 1100.7 L250.0 1094.2 L252.3 1106.4 L254.1 1101.1 L256.9 1108.7 L259.2 1099.2 L261.5 1099.7 L263.8 1093.6 L265.5 1101.9 L268.4 1101.7 L270.7 1117.0 L273.0 1108.0 L275.3 1124.5 L277.6 1107.9 L279.9 1122.7 L281.1 1108.3 L282.2 1126.1 L284.5 1110.6 L286.8 1110.0 L289.1 1097.2 L291.4 1109.5 L293.7 1098.0 L296.0 1109.0 L298.3 1096.0 L300.6 1105.8 L301.7 1093.8 L302.9 1106.7 L305.2 1099.2 L307.5 1107.7 L310.0 1100.3 L312.1 1108.0 L314.4 1099.8 L316.7 1105.7 L318.3 1095.4 L321.3 1109.6 L323.6 1096.9 L325.9 1111.1 L328.6 1101.5 L330.5 1114.1 L332.8 1104.6 L334.9 1107.2 L337.4 1096.1 L339.7 1107.4 L342.0 1101.1 L345.2 1110.0 L346.6 1098.5 L348.9 1101.4 L351.2 1087.2 L353.5 1088.3 L355.8 1089.9 L357.6 1111.5 L360.4 1092.4 L362.7 1102.0 L363.8 1087.7 L365.0 1099.9 L367.3 1093.4 L369.6 1102.1 L371.9 1092.3 L374.2 1104.8 L376.5 1095.3 L378.8 1110.3 L380.4 1100.4 L383.4 1106.8 L386.6 1087.1 L388.0 1095.0 L390.3 1090.7 L392.8 1100.4 L394.9 1088.2 L397.2 1103.5 L399.5 1094.5 L401.8 1101.2 L404.1 1092.5 L406.4 1109.1 L409.3 1096.4 L411.0 1105.8 L413.3 1096.4 L415.6 1108.7 L417.6 1091.1 L420.2 1105.8 L422.5 1100.1 L424.8 1113.7 L427.1 1102.8 L429.4 1111.6 L431.7 1104.4 L434.0 1115.9 L436.3 1109.4 L438.6 1123.4 L440.9 1111.8 L443.2 1126.4 L445.5 1122.1 L447.8 1133.4 L450.1 1119.8 L452.4 1134.1 L454.7 1127.1 L457.0 1144.6 L459.3 1131.5 L461.6 1143.9 L463.9 1140.2 L466.2 1149.7 L469.4 1139.4 L470.8 1144.9 L473.1 1137.1 L475.4 1145.6 L477.7 1130.9 L480.0 1143.0 L482.3 1128.3 L484.6 1135.6 L486.9 1131.3 L489.2 1135.5 L491.5 1116.2 L493.8 1123.4 L496.1 1107.4 L498.4 1110.9 L500.7 1088.6 L503.0 1086.3 L505.3 1060.6 L507.6 1053.4 L509.9 1030.2 L512.2 1029.1 L514.5 1013.2 L516.8 1015.9 L520.1 1002.5 L521.4 1011.9 L523.7 1008.3 L526.0 1028.2 L528.3 1020.9 L530.6 1037.1 L532.9 1041.0 L535.2 1053.9 L537.5 1048.7 L539.8 1069.8 L542.1 1058.0 L544.4 1069.3 L546.7 1062.4 L549.0 1074.9 L552.1 1069.5 L553.6 1077.1 L555.9 1064.0 L558.2 1070.6 L560.4 1064.1 L562.8 1076.1 L565.1 1066.0 L567.4 1074.5 L569.7 1072.1 L572.0 1078.6 L574.3 1067.3 L575.9 1076.8 L578.9 1061.8 L581.2 1067.0 L583.5 1060.3 L585.8 1060.1 L588.1 1049.2 L590.0 1053.2 L592.7 1047.0 L595.0 1052.4 L597.3 1048.6 L599.6 1051.9 L602.4 1050.5 L604.2 1053.9 L606.5 1048.4 L608.8 1054.2 L611.1 1043.9 L613.4 1040.1 L615.7 1026.8 L618.0 1024.1 L620.3 1006.8 L622.6 1014.6 L624.1 1000.4 L627.2 1018.1 L629.5 1013.3 L631.8 1040.0 L634.1 1041.4 L636.4 1068.9 L638.7 1068.5 L641.0 1086.1 L643.3 1090.1 L645.6 1107.9 L647.9 1105.0 L650.2 1117.4 L652.5 1116.1 L654.8 1122.9 L657.1 1116.6 L659.4 1134.3 L661.7 1127.0 L664.0 1138.6 L666.3 1131.4 L668.6 1139.7 L670.9 1126.6 L673.2 1137.3 L674.8 1132.4 L677.8 1139.1 L680.1 1131.6 L682.4 1140.9 L684.7 1129.6 L687.0 1140.8 L689.3 1131.2 L691.6 1144.0 L693.9 1131.3 L696.2 1136.4 L698.5 1124.5 L700.8 1136.6 L703.1 1117.4 L705.4 1132.6 L707.7 1122.6 L710.0 1130.1 L712.3 1122.6 L714.6 1127.8 L716.9 1111.5 L719.2 1119.6 L721.5 1106.0 L723.8 1116.0 L726.6 1105.1 L728.4 1118.0 L730.7 1109.4 L733.0 1118.4 L734.9 1105.4 L737.6 1120.2 L739.9 1107.0 L742.2 1113.8 L744.5 1107.4 L746.8 1112.3 L749.1 1105.2 L751.4 1115.1 L753.7 1100.9 L756.0 1116.3 L758.3 1100.9 L759.7 1111.3 L762.9 1104.4 L765.9 1116.7 L767.5 1104.5 L769.8 1110.3 L772.1 1100.7 L774.4 1112.0 L776.7 1103.2 L779.0 1116.2 L780.4 1104.9 L783.6 1111.9 L785.9 1103.1 L788.7 1117.2 L790.5 1105.9 L792.8 1115.2 L795.1 1110.8 L797.4 1116.8 L799.0 1107.2 L802.0 1116.9 L804.3 1107.1 L806.6 1111.3 L808.9 1102.3 L811.4 1112.2 L813.5 1103.5 L815.8 1112.3 L818.1 1107.1 L820.4 1112.6 L822.7 1105.7 L823.8 1115.3 L825.0 1107.2 L827.3 1111.2 L829.6 1105.1 L831.9 1113.5 L834.2 1102.0 L836.5 1110.7 L837.1 1108.5" fill="none" stroke="#c80000" stroke-width="14.0" stroke-linejoin="round" stroke-linecap="round"/>
<path d="M247.7 1213.4 L250.0 1209.2 L252.3 1215.5 L254.6 1206.7 L256.9 1210.2 L259.2 1206.8 L261.5 1211.6 L263.8 1206.4 L266.1 1209.5 L268.4 1202.6 L270.7 1210.2 L272.8 1205.4 L275.3 1211.2 L277.6 1206.2 L279.9 1216.3 L282.2 1209.1 L285.2 1215.0 L286.8 1209.7 L289.1 1209.2 L291.4 1201.4 L293.7 1204.7 L296.0 1203.2 L298.3 1210.7 L300.6 1206.9 L301.7 1214.4 L302.9 1208.3 L305.2 1214.7 L307.5 1206.7 L309.8 1212.5 L312.1 1205.7 L314.4 1210.2 L316.7 1204.6 L319.0 1208.4 L321.3 1203.0 L322.4 1209.2 L323.6 1202.9 L325.9 1211.4 L328.2 1207.3 L330.5 1211.3 L332.8 1207.3 L334.9 1213.3 L337.4 1210.0 L339.7 1211.2 L342.0 1205.1 L344.3 1211.2 L346.6 1202.5 L348.9 1211.0 L351.2 1203.2 L353.5 1210.9 L355.8 1204.3 L358.1 1211.1 L360.4 1208.8 L362.7 1215.0 L365.9 1208.3 L367.3 1216.7 L369.6 1208.7 L371.9 1214.3 L374.2 1207.3 L376.5 1214.1 L378.8 1205.6 L381.1 1212.0 L383.5 1203.4 L385.7 1208.2 L388.0 1205.8 L390.7 1212.1 L392.6 1208.5 L394.9 1213.1 L397.2 1209.0 L399.0 1212.9 L401.8 1206.5 L404.1 1214.7 L406.4 1207.7 L409.3 1215.0 L411.0 1210.4 L413.3 1214.6 L415.6 1210.5 L417.9 1214.0 L419.7 1208.6 L422.5 1214.4 L424.8 1209.7 L428.0 1218.0 L429.4 1211.1 L431.7 1214.0 L434.2 1206.1 L436.3 1215.0 L438.6 1212.2 L440.9 1218.9 L443.2 1219.2 L445.5 1224.6 L447.8 1221.2 L450.1 1230.1 L452.4 1226.0 L454.7 1235.0 L457.0 1231.1 L459.3 1235.0 L461.6 1231.9 L463.2 1235.4 L466.2 1231.6 L468.5 1239.8 L470.8 1234.4 L473.1 1238.2 L475.4 1232.5 L477.7 1237.7 L480.0 1230.8 L482.3 1235.0 L484.6 1224.4 L486.9 1228.1 L489.2 1221.2 L491.5 1225.5 L493.8 1218.5 L496.1 1220.3 L498.4 1209.0 L500.7 1210.4 L503.0 1194.9 L505.3 1187.8 L507.6 1172.6 L509.9 1162.2 L512.2 1142.8 L514.5 1130.8 L516.8 1112.6 L519.1 1107.1 L521.4 1094.7 L523.7 1091.7 L526.0 1082.0 L528.3 1087.4 L530.6 1086.9 L532.9 1095.3 L535.2 1095.9 L537.5 1110.4 L539.8 1113.2 L542.1 1122.4 L544.4 1122.2 L545.9 1131.9 L549.0 1128.2 L551.3 1129.7 L553.6 1124.1 L555.9 1128.9 L558.2 1120.5 L560.4 1125.3 L562.8 1122.9 L565.1 1128.7 L567.4 1125.9 L569.7 1133.8 L572.0 1128.9 L573.9 1134.7 L576.6 1125.7 L578.9 1129.6 L581.2 1118.3 L583.5 1119.3 L585.8 1109.6 L588.1 1110.1 L590.0 1102.8 L592.7 1108.7 L595.0 1103.9 L597.3 1110.0 L599.6 1105.1 L601.9 1111.4 L604.2 1103.6 L606.5 1108.6 L608.8 1098.9 L611.1 1099.5 L613.4 1085.8 L614.8 1086.6 L618.0 1081.8 L620.3 1088.8 L622.6 1091.6 L624.9 1116.2 L627.2 1129.0 L629.5 1148.2 L631.8 1155.9 L634.1 1175.8 L636.4 1179.6 L638.7 1197.1 L641.0 1195.4 L643.3 1207.2 L645.6 1208.2 L647.9 1215.0 L650.2 1213.7 L652.5 1219.6 L654.8 1219.4 L657.1 1228.0 L659.4 1222.2 L661.7 1228.9 L664.0 1224.8 L666.3 1231.2 L668.6 1227.9 L670.9 1229.5 L673.2 1226.8 L675.5 1231.6 L677.8 1221.9 L680.1 1230.0 L682.4 1224.3 L684.7 1230.7 L687.0 1224.1 L689.3 1227.6 L691.6 1224.7 L693.9 1229.6 L696.2 1224.9 L697.6 1229.1 L700.8 1223.1 L703.1 1228.7 L705.4 1221.5 L707.7 1223.4 L710.0 1218.8 L712.3 1222.3 L714.6 1214.3 L716.9 1217.7 L719.2 1213.8 L721.5 1220.3 L723.8 1213.4 L726.1 1220.3 L728.4 1211.5 L730.7 1218.0 L733.0 1213.8 L735.3 1219.0 L737.6 1210.9 L739.9 1215.6 L742.2 1212.4 L744.5 1217.4 L747.3 1208.4 L749.1 1216.2 L751.4 1211.4 L753.7 1214.7 L756.0 1212.4 L757.6 1215.5 L760.6 1211.0 L762.9 1213.7 L765.2 1211.0 L767.5 1214.4 L769.8 1209.0 L772.1 1213.8 L774.4 1209.4 L776.7 1213.4 L779.0 1203.5 L781.3 1206.5 L784.5 1200.0 L785.9 1204.2 L788.2 1202.0 L790.5 1207.0 L792.8 1205.2 L795.1 1209.2 L797.4 1201.5 L799.7 1207.1 L802.0 1202.5 L803.1 1208.7 L804.3 1203.3 L806.6 1207.9 L808.9 1204.2 L811.2 1211.5 L813.5 1204.7 L815.8 1211.6 L818.1 1207.9 L820.4 1210.3 L822.7 1205.3 L825.0 1208.9 L827.3 1206.6 L829.6 1217.6 L832.1 1214.0 L834.2 1218.3 L836.5 1211.9 L837.1 1214.7" fill="none" stroke="#00aa00" stroke-width="14.0" stroke-linejoin="round" stroke-linecap="round"/>
<path d="M247.7 1331.7 L250.0 1330.1 L252.3 1331.4 L254.6 1330.3 L256.9 1331.4 L259.2 1330.7 L261.5 1332.6 L263.8 1331.9 L266.1 1333.0 L268.4 1332.7 L270.7 1333.1 L273.0 1329.9 L275.3 1332.1 L277.6 1327.9 L279.9 1329.4 L282.2 1325.4 L285.2 1326.5 L286.8 1324.9 L289.1 1327.5 L291.4 1326.1 L293.7 1329.2 L296.0 1328.1 L298.3 1330.1 L300.6 1329.1 L302.9 1331.4 L305.2 1330.0 L307.5 1333.6 L309.8 1332.4 L312.1 1333.6 L314.2 1332.7 L316.7 1334.2 L319.0 1332.0 L321.3 1334.3 L323.6 1331.7 L325.9 1332.5 L328.2 1330.2 L330.5 1332.3 L332.8 1331.0 L335.1 1332.4 L337.4 1330.3 L339.7 1331.2 L342.0 1329.9 L344.3 1331.4 L346.6 1329.3 L348.9 1330.3 L351.2 1328.6 L353.5 1330.2 L355.8 1327.5 L358.1 1328.5 L359.7 1327.2 L362.7 1329.0 L365.0 1327.1 L367.3 1330.0 L369.6 1329.0 L371.9 1331.4 L374.2 1329.6 L376.5 1330.9 L378.8 1328.5 L381.1 1328.5 L383.4 1326.8 L385.7 1327.1 L387.6 1324.9 L390.3 1327.4 L392.6 1326.2 L394.9 1329.2 L397.2 1328.0 L399.5 1330.0 L401.8 1328.8 L404.1 1331.4 L406.4 1329.5 L408.7 1331.1 L411.0 1329.2 L413.5 1331.7 L415.6 1329.9 L417.9 1331.7 L420.2 1329.0 L422.5 1330.7 L424.8 1328.8 L427.1 1330.4 L429.4 1327.6 L432.1 1329.7 L434.0 1328.7 L436.3 1331.1 L438.6 1329.5 L440.9 1332.3 L443.2 1331.6 L445.5 1334.1 L447.8 1333.6 L450.1 1336.7 L452.4 1335.0 L454.7 1338.0 L457.0 1337.8 L459.3 1339.9 L461.6 1339.8 L463.9 1340.7 L466.2 1339.7 L467.3 1341.5 L468.5 1339.5 L470.8 1341.2 L473.1 1338.4 L475.4 1340.3 L477.7 1335.9 L480.0 1338.6 L482.3 1336.3 L484.6 1337.1 L486.9 1334.5 L489.2 1335.9 L491.5 1332.6 L493.8 1333.5 L496.1 1330.2 L498.4 1330.2 L500.7 1327.3 L503.0 1326.0 L505.3 1322.4 L507.6 1321.3 L509.9 1316.3 L512.2 1314.1 L514.5 1307.0 L516.8 1301.6 L519.1 1290.1 L521.4 1277.9 L523.7 1262.1 L526.0 1249.1 L528.3 1232.1 L530.6 1218.8 L532.9 1207.1 L535.2 1190.6 L537.5 1180.8 L539.8 1177.9 L542.1 1173.1 L544.4 1174.3 L546.7 1171.3 L549.0 1173.7 L551.3 1172.0 L554.2 1172.8 L555.9 1172.0 L558.2 1173.2 L560.5 1171.4 L562.8 1172.8 L565.1 1172.4 L567.4 1172.8 L569.7 1172.1 L572.0 1173.1 L574.3 1171.9 L576.6 1173.0 L578.9 1171.4 L581.2 1174.5 L583.5 1178.8 L585.8 1189.7 L588.1 1195.1 L590.0 1198.9 L592.7 1194.3 L595.0 1192.0 L597.3 1188.2 L599.6 1187.2 L602.4 1182.9 L604.2 1184.7 L606.5 1185.6 L608.8 1189.5 L611.1 1196.2 L613.4 1208.8 L615.7 1219.5 L618.0 1234.5 L620.3 1246.5 L622.6 1261.8 L624.9 1274.6 L627.2 1288.0 L629.5 1296.5 L631.8 1307.2 L634.1 1311.2 L636.4 1316.7 L638.7 1319.5 L641.0 1324.1 L643.3 1324.7 L645.6 1328.0 L647.9 1328.0 L650.2 1331.5 L652.5 1330.4 L654.8 1332.9 L657.1 1332.3 L659.4 1334.6 L661.7 1334.7 L664.0 1336.6 L666.3 1335.5 L668.6 1337.6 L670.9 1336.4 L672.8 1338.4 L675.5 1336.6 L677.8 1338.9 L680.1 1336.8 L682.4 1337.5 L684.7 1335.1 L687.0 1337.4 L689.3 1335.8 L691.6 1335.2 L693.9 1333.2 L696.2 1335.0 L698.5 1334.1 L700.8 1334.4 L703.1 1332.0 L705.4 1332.7 L707.7 1329.1 L710.0 1330.5 L712.3 1328.7 L714.6 1331.1 L716.9 1329.1 L719.2 1331.6 L721.5 1329.9 L723.8 1331.7 L726.1 1330.9 L728.4 1333.4 L730.7 1331.6 L732.8 1333.6 L735.3 1331.4 L737.6 1331.4 L739.9 1328.7 L742.2 1329.5 L744.5 1327.7 L746.8 1329.0 L749.1 1326.1 L751.4 1327.2 L753.7 1326.4 L756.0 1326.4 L758.3 1324.4 L760.6 1326.0 L763.8 1324.4 L765.2 1325.2 L767.5 1324.4 L769.8 1326.4 L772.1 1326.1 L774.4 1328.5 L776.7 1327.2 L779.0 1329.9 L781.3 1328.1 L783.6 1329.5 L785.9 1328.3 L788.7 1331.0 L790.5 1327.8 L792.8 1331.0 L795.1 1328.8 L797.4 1329.1 L799.7 1328.2 L802.0 1328.3 L804.3 1325.9 L806.6 1326.8 L809.3 1324.6 L811.2 1326.6 L813.5 1326.8 L815.8 1330.1 L817.6 1329.2 L820.4 1329.3 L822.7 1325.3 L823.8 1327.3 L825.0 1325.0 L827.3 1329.0 L829.6 1327.9 L832.1 1330.8 L834.2 1330.4 L836.5 1330.9 L837.1 1330.0" fill="none" stroke="#0000b0" stroke-width="14.0" stroke-linejoin="round" stroke-linecap="round"/>
<path d="M247.7 1381.0 L250.0 1379.4 L252.3 1381.5 L254.6 1379.5 L256.9 1380.9 L259.2 1379.4 L261.5 1380.5 L263.8 1378.6 L266.1 1380.6 L268.4 1379.4 L270.7 1380.6 L273.0 1379.5 L275.3 1380.8 L277.6 1379.4 L279.9 1380.2 L282.2 1378.4 L284.5 1380.4 L286.8 1378.8 L289.1 1379.9 L291.4 1379.3 L293.7 1380.4 L296.0 1377.8 L298.3 1380.4 L300.6 1378.4 L302.9 1380.0 L305.2 1378.4 L307.5 1379.6 L309.8 1377.9 L312.1 1379.4 L314.4 1376.6 L316.7 1379.4 L319.0 1377.6 L321.3 1379.1 L323.6 1378.2 L325.9 1379.6 L328.2 1376.6 L330.5 1378.9 L332.8 1377.3 L335.1 1379.5 L337.4 1376.7 L339.7 1378.5 L342.0 1377.3 L343.1 1378.6 L344.3 1377.0 L346.6 1378.1 L348.9 1377.3 L351.2 1379.1 L353.5 1377.4 L355.8 1379.5 L358.1 1378.3 L360.4 1380.0 L362.7 1379.2 L365.0 1380.6 L368.0 1378.8 L369.6 1380.6 L371.9 1378.8 L374.2 1379.6 L376.5 1378.4 L378.8 1380.2 L381.1 1377.9 L383.4 1379.5 L385.7 1376.4 L388.7 1378.4 L390.3 1377.5 L392.6 1378.5 L394.9 1377.2 L397.2 1378.4 L399.5 1377.3 L401.8 1378.9 L404.1 1377.2 L406.4 1379.0 L408.7 1378.5 L411.0 1380.2 L413.3 1378.9 L415.6 1380.3 L417.9 1379.5 L420.2 1381.6 L422.5 1379.5 L424.8 1381.9 L425.9 1380.5 L427.1 1381.7 L429.4 1379.9 L431.7 1381.3 L434.0 1379.0 L436.3 1379.6 L438.6 1378.0 L440.4 1379.6 L443.2 1378.8 L445.5 1381.2 L447.8 1379.9 L450.1 1382.3 L452.4 1381.7 L454.7 1383.5 L457.0 1382.9 L459.3 1384.8 L461.6 1383.6 L463.9 1385.4 L466.2 1384.7 L467.3 1386.4 L468.5 1384.6 L470.8 1385.6 L473.1 1383.5 L475.4 1384.7 L477.7 1383.0 L480.0 1383.5 L482.3 1381.0 L484.6 1383.2 L486.9 1381.4 L489.2 1382.0 L491.5 1380.7 L493.8 1381.3 L496.1 1379.2 L498.4 1379.1 L500.7 1377.7 L503.0 1377.4 L505.3 1373.9 L507.6 1374.4 L509.9 1371.1 L512.2 1370.8 L514.5 1366.1 L516.8 1364.8 L519.1 1357.5 L521.4 1351.9 L523.7 1341.8 L526.0 1333.7 L528.3 1320.0 L530.6 1310.1 L532.9 1295.7 L535.2 1285.7 L537.5 1274.5 L539.8 1268.0 L542.1 1260.1 L544.4 1257.9 L546.7 1254.1 L549.0 1253.8 L550.1 1252.6 L551.3 1255.3 L553.6 1256.9 L555.9 1262.8 L558.2 1263.5 L561.4 1268.4 L562.8 1264.5 L565.1 1258.9 L567.4 1254.0 L569.7 1251.9 L572.0 1247.4 L574.3 1247.6 L576.6 1243.8 L578.0 1246.3 L581.2 1256.3 L583.5 1268.8 L585.8 1279.9 L588.1 1293.3 L590.0 1296.4 L592.7 1297.8 L595.0 1295.4 L597.3 1294.8 L599.6 1288.8 L602.4 1288.2 L604.2 1286.8 L606.5 1290.7 L608.8 1290.5 L611.1 1297.8 L613.4 1310.1 L615.7 1325.9 L618.0 1335.1 L620.3 1346.3 L622.6 1351.9 L624.9 1359.1 L627.2 1363.2 L629.5 1367.3 L631.8 1367.6 L634.1 1371.9 L636.4 1372.2 L638.7 1375.4 L641.0 1374.8 L643.3 1377.6 L645.6 1376.9 L647.9 1379.9 L650.2 1378.9 L652.5 1380.5 L654.8 1379.7 L657.1 1381.7 L659.4 1380.9 L661.7 1383.6 L664.0 1382.1 L666.3 1384.3 L668.6 1383.0 L670.9 1385.1 L672.8 1383.4 L675.5 1385.2 L677.8 1383.6 L680.1 1384.5 L682.4 1383.5 L684.7 1384.0 L687.0 1382.3 L689.3 1383.8 L691.6 1381.8 L693.5 1383.3 L696.2 1381.2 L698.5 1383.6 L700.8 1381.9 L703.1 1383.7 L705.4 1382.4 L707.7 1383.7 L710.0 1382.2 L712.3 1383.5 L714.6 1380.7 L716.9 1381.7 L719.2 1379.4 L722.4 1379.9 L723.8 1378.0 L726.1 1379.7 L728.4 1379.3 L730.7 1381.2 L733.0 1380.1 L734.9 1381.8 L737.6 1379.7 L739.9 1381.2 L742.2 1378.3 L744.5 1379.6 L747.3 1377.6 L749.1 1379.3 L751.4 1377.5 L753.7 1379.2 L756.0 1378.3 L758.3 1380.1 L760.6 1377.7 L762.9 1380.0 L765.9 1378.5 L767.5 1379.9 L769.8 1378.3 L772.1 1379.3 L774.4 1377.5 L776.7 1379.1 L779.0 1377.0 L781.3 1379.0 L783.6 1376.4 L785.9 1378.1 L788.7 1376.9 L790.5 1378.5 L792.8 1377.2 L795.1 1378.9 L797.4 1377.3 L799.7 1380.4 L802.0 1378.9 L805.2 1381.3 L806.6 1379.2 L808.9 1380.3 L811.2 1377.6 L813.5 1378.3 L815.8 1376.3 L817.6 1378.2 L820.4 1376.3 L822.7 1378.6 L825.0 1377.5 L828.0 1380.6 L829.6 1379.5 L831.9 1380.2 L834.2 1379.0 L836.5 1379.6 L837.1 1377.8" fill="none" stroke="#3a3a3a" stroke-width="14.0" stroke-linejoin="round" stroke-linecap="round"/>
<path d="M247.7 1435.8 L250.0 1434.7 L252.3 1435.9 L254.6 1434.8 L256.9 1435.3 L259.2 1434.5 L261.5 1435.4 L263.8 1434.5 L266.1 1435.4 L268.4 1434.1 L270.7 1435.3 L272.8 1434.6 L275.3 1435.5 L277.6 1434.2 L279.9 1435.3 L282.2 1434.3 L284.5 1435.0 L286.8 1434.0 L289.1 1435.1 L291.4 1434.1 L293.7 1435.3 L296.0 1434.2 L298.3 1434.8 L300.6 1434.5 L302.9 1435.7 L305.2 1435.0 L307.5 1435.6 L309.8 1434.5 L312.1 1436.0 L314.4 1435.2 L316.7 1436.3 L319.0 1435.4 L321.3 1436.9 L323.6 1435.6 L325.9 1437.1 L328.2 1436.2 L330.5 1437.7 L332.8 1436.4 L335.1 1437.4 L337.4 1436.2 L339.7 1437.8 L342.0 1436.2 L344.3 1437.0 L346.6 1436.4 L348.9 1436.7 L351.2 1436.4 L353.5 1436.6 L355.8 1435.8 L358.1 1437.0 L360.4 1435.6 L362.7 1436.4 L365.0 1435.5 L367.3 1436.2 L369.6 1434.8 L371.9 1436.3 L374.2 1435.2 L376.5 1435.7 L378.8 1434.8 L381.1 1435.7 L383.4 1434.4 L385.7 1434.8 L388.0 1434.0 L390.3 1435.2 L392.6 1433.6 L394.9 1434.2 L397.2 1434.0 L399.5 1434.6 L401.8 1433.4 L404.1 1434.5 L405.2 1432.9 L406.4 1434.2 L408.7 1433.6 L411.0 1434.6 L413.3 1433.3 L415.6 1434.7 L417.9 1434.1 L420.2 1434.8 L422.5 1434.5 L424.8 1435.5 L427.1 1434.7 L429.4 1436.2 L431.7 1434.6 L434.0 1436.0 L436.3 1435.1 L438.6 1436.8 L440.9 1435.5 L443.2 1436.8 L445.5 1436.1 L447.8 1438.0 L450.1 1437.1 L452.4 1438.4 L454.7 1437.7 L457.0 1439.0 L459.3 1439.0 L461.1 1439.5 L463.9 1438.6 L466.2 1439.1 L468.5 1438.0 L470.8 1438.8 L473.1 1437.4 L475.4 1438.5 L477.7 1437.0 L480.0 1437.3 L482.3 1435.8 L484.6 1436.4 L486.9 1435.2 L489.2 1436.0 L491.5 1434.2 L493.8 1435.0 L496.1 1432.9 L498.4 1434.1 L500.7 1432.3 L503.0 1432.8 L505.3 1431.9 L507.6 1431.3 L509.9 1429.2 L512.2 1428.7 L514.5 1425.7 L516.8 1424.3 L519.1 1420.5 L521.4 1418.9 L523.7 1414.8 L526.0 1411.6 L528.3 1406.9 L530.6 1402.3 L532.9 1396.4 L535.2 1391.5 L537.5 1384.7 L539.8 1379.0 L542.1 1372.9 L544.4 1370.6 L547.0 1369.0 L549.0 1371.3 L551.3 1371.7 L553.6 1373.9 L555.9 1374.5 L558.2 1376.2 L561.4 1375.7 L562.8 1375.5 L565.1 1371.1 L567.4 1369.4 L569.7 1367.0 L572.8 1366.7 L574.3 1367.9 L576.6 1371.9 L578.9 1375.2 L581.2 1382.7 L583.5 1389.0 L585.8 1396.5 L588.1 1399.7 L590.0 1402.1 L592.7 1400.5 L595.0 1400.6 L597.3 1397.0 L599.6 1395.3 L601.9 1391.8 L603.5 1391.8 L606.5 1393.6 L608.8 1398.1 L611.1 1400.5 L613.4 1407.6 L615.7 1412.2 L618.0 1417.6 L620.3 1420.9 L622.6 1425.3 L624.9 1427.0 L627.2 1429.1 L629.5 1429.5 L631.8 1432.3 L634.1 1432.6 L636.4 1434.8 L638.7 1434.5 L641.0 1436.4 L643.3 1436.0 L645.6 1437.2 L647.9 1436.0 L650.2 1437.1 L652.5 1436.0 L654.8 1437.7 L657.1 1436.4 L659.4 1437.6 L661.7 1436.1 L664.0 1437.7 L666.3 1437.1 L668.6 1437.7 L670.9 1437.2 L673.2 1438.7 L675.5 1437.9 L677.8 1438.7 L681.1 1438.0 L682.4 1439.1 L684.7 1437.7 L687.0 1438.9 L689.3 1438.1 L691.6 1439.1 L693.9 1437.8 L696.2 1438.4 L698.5 1437.7 L700.8 1438.1 L703.1 1436.7 L705.4 1437.7 L707.7 1436.8 L710.0 1437.0 L712.3 1435.9 L714.6 1436.9 L716.9 1435.3 L718.3 1436.3 L721.5 1435.1 L723.8 1436.5 L726.1 1435.8 L728.4 1436.8 L730.7 1436.0 L733.0 1436.8 L735.3 1436.1 L737.6 1437.3 L739.9 1436.3 L741.1 1437.5 L742.2 1436.1 L744.5 1437.2 L746.8 1435.7 L749.1 1437.0 L751.4 1435.4 L753.7 1436.9 L756.0 1434.6 L758.3 1435.8 L760.6 1434.5 L762.9 1436.1 L765.2 1434.1 L767.5 1435.1 L769.8 1434.1 L772.1 1435.2 L774.4 1434.1 L776.7 1434.6 L779.0 1433.4 L781.3 1434.5 L783.6 1433.6 L785.9 1434.8 L788.7 1433.6 L790.5 1434.5 L792.8 1433.3 L795.1 1434.2 L797.4 1433.8 L799.7 1434.9 L802.0 1433.9 L804.3 1435.0 L806.6 1434.4 L808.9 1435.5 L811.2 1434.3 L813.5 1435.6 L815.8 1434.3 L818.1 1436.1 L820.4 1435.1 L822.7 1436.4 L825.0 1434.8 L828.0 1436.3 L829.6 1435.4 L831.9 1436.1 L834.2 1435.3 L836.5 1436.4 L837.1 1434.6" fill="none" stroke="#c80000" stroke-width="14.0" stroke-linejoin="round" stroke-linecap="round"/>
<path d="M1025.3 1015.1 L1027.6 1010.1 L1029.9 1014.6 L1032.2 1011.1 L1034.5 1015.4 L1036.8 1011.7 L1039.1 1012.7 L1042.1 1010.6 L1043.7 1014.7 L1046.0 1010.5 L1048.3 1015.7 L1050.6 1010.7 L1052.9 1018.7 L1055.2 1010.4 L1056.6 1017.7 L1059.8 1010.5 L1062.1 1019.6 L1064.4 1012.9 L1066.7 1014.0 L1069.0 1009.0 L1071.3 1017.1 L1073.6 1013.7 L1075.9 1021.5 L1078.2 1016.9 L1079.3 1022.6 L1080.5 1016.8 L1082.8 1022.9 L1085.1 1017.9 L1087.4 1020.4 L1089.7 1015.6 L1091.7 1019.8 L1094.3 1016.9 L1096.6 1021.0 L1098.9 1016.4 L1101.2 1023.0 L1103.5 1015.9 L1105.8 1022.3 L1108.1 1016.9 L1110.4 1023.8 L1112.7 1020.5 L1115.0 1022.7 L1117.3 1017.1 L1119.6 1022.5 L1122.8 1019.1 L1124.2 1023.8 L1126.5 1019.1 L1128.8 1023.3 L1131.1 1019.3 L1133.4 1021.8 L1135.7 1018.0 L1138.0 1024.8 L1140.3 1017.2 L1142.6 1024.3 L1144.9 1017.7 L1147.2 1023.7 L1149.5 1020.0 L1151.8 1023.5 L1154.1 1017.6 L1156.4 1022.4 L1158.7 1015.6 L1161.0 1020.5 L1163.3 1013.3 L1166.2 1018.2 L1167.9 1013.0 L1170.2 1018.6 L1172.5 1016.8 L1174.5 1021.1 L1177.1 1013.9 L1179.4 1020.3 L1181.7 1014.4 L1184.9 1016.2 L1186.3 1011.5 L1188.6 1020.4 L1190.9 1015.1 L1193.1 1020.8 L1195.5 1016.4 L1197.8 1022.6 L1200.1 1013.2 L1202.4 1019.2 L1204.7 1014.6 L1207.0 1019.2 L1209.3 1011.6 L1211.6 1014.3 L1213.8 1009.7 L1216.2 1016.4 L1218.5 1014.7 L1220.8 1023.3 L1223.1 1018.4 L1225.4 1026.9 L1227.7 1026.7 L1230.0 1034.5 L1232.3 1029.8 L1234.6 1038.1 L1236.9 1034.9 L1239.2 1043.8 L1241.5 1038.0 L1243.8 1044.9 L1246.9 1043.7 L1248.4 1047.8 L1250.7 1042.1 L1253.0 1044.3 L1255.3 1039.9 L1257.6 1043.8 L1259.9 1035.9 L1262.2 1041.5 L1264.5 1033.6 L1266.8 1036.5 L1269.1 1033.1 L1271.4 1033.7 L1273.7 1022.4 L1276.0 1024.2 L1278.3 1013.7 L1280.6 1013.3 L1282.9 999.5 L1285.2 994.8 L1287.5 980.7 L1289.8 973.0 L1292.1 954.9 L1294.4 949.7 L1296.7 936.6 L1299.0 934.8 L1301.3 927.3 L1302.8 930.7 L1305.9 930.4 L1308.2 941.7 L1310.5 939.3 L1312.8 949.1 L1315.1 952.7 L1317.4 959.6 L1319.7 957.3 L1322.0 968.1 L1324.3 962.0 L1326.6 967.0 L1327.6 962.4 L1328.9 967.6 L1331.2 963.6 L1333.5 966.6 L1335.8 959.6 L1338.1 963.0 L1340.4 959.5 L1342.7 964.9 L1344.2 959.3 L1347.3 965.2 L1349.6 965.8 L1352.5 970.2 L1354.2 963.7 L1356.5 966.8 L1358.8 959.3 L1361.1 961.6 L1363.4 956.6 L1365.7 954.3 L1368.0 947.8 L1370.3 949.0 L1373.2 945.0 L1374.9 948.2 L1377.2 947.8 L1380.0 950.6 L1381.8 950.0 L1384.1 952.4 L1386.4 949.9 L1388.7 951.9 L1391.0 942.0 L1393.3 937.2 L1395.6 930.8 L1398.6 930.6 L1400.2 926.4 L1402.5 935.8 L1404.8 934.8 L1407.1 954.3 L1409.4 964.3 L1411.7 985.3 L1414.0 990.7 L1416.3 1007.8 L1418.6 1009.3 L1420.9 1018.0 L1423.2 1019.7 L1425.5 1029.1 L1427.8 1027.8 L1430.1 1034.2 L1432.4 1033.9 L1434.7 1037.3 L1437.0 1034.0 L1439.3 1042.6 L1441.6 1038.6 L1444.1 1043.9 L1446.2 1039.4 L1448.5 1042.9 L1450.8 1035.8 L1453.1 1040.7 L1455.4 1037.8 L1457.7 1040.9 L1460.0 1036.8 L1462.3 1041.3 L1464.6 1035.4 L1466.9 1040.8 L1469.2 1035.9 L1471.5 1042.1 L1473.8 1035.6 L1476.1 1037.9 L1478.4 1031.6 L1480.7 1037.2 L1483.0 1027.2 L1485.3 1034.4 L1487.6 1029.1 L1489.9 1032.4 L1492.2 1028.2 L1494.5 1030.4 L1496.8 1023.4 L1499.1 1026.5 L1502.1 1017.3 L1503.7 1022.7 L1506.0 1018.8 L1508.3 1025.7 L1510.6 1019.0 L1512.9 1020.4 L1515.2 1011.4 L1516.6 1018.2 L1519.8 1016.0 L1522.8 1023.6 L1524.4 1020.9 L1526.7 1023.4 L1529.0 1019.7 L1531.3 1024.5 L1533.1 1017.6 L1535.9 1025.9 L1538.2 1018.9 L1540.5 1024.4 L1543.5 1020.0 L1545.1 1024.3 L1547.4 1016.9 L1549.7 1019.3 L1551.8 1014.5 L1554.3 1021.0 L1556.6 1017.9 L1558.9 1025.5 L1561.2 1020.6 L1563.5 1024.6 L1565.8 1020.7 L1568.1 1028.0 L1570.4 1022.1 L1572.7 1025.7 L1575.0 1022.0 L1577.3 1023.7 L1579.6 1018.0 L1580.7 1023.1 L1581.9 1018.8 L1584.2 1021.9 L1586.5 1018.5 L1588.8 1024.5 L1591.1 1020.4 L1593.4 1024.4 L1595.7 1021.1 L1598.0 1023.0 L1599.3 1019.1 L1602.6 1024.4 L1604.9 1020.8 L1607.6 1023.0 L1609.5 1019.3 L1611.8 1022.2 L1614.1 1014.9 L1615.1 1018.5" fill="none" stroke="#3a3a3a" stroke-width="14.0" stroke-linejoin="round" stroke-linecap="round"/>
<path d="M1025.3 1136.0 L1027.6 1132.8 L1029.9 1140.1 L1031.7 1132.6 L1034.5 1136.0 L1036.8 1132.0 L1039.1 1135.9 L1041.4 1129.6 L1043.7 1131.1 L1046.0 1121.7 L1048.3 1126.7 L1050.6 1119.4 L1052.4 1123.0 L1055.2 1121.5 L1057.5 1135.5 L1058.6 1127.6 L1059.8 1132.1 L1062.1 1127.9 L1064.4 1132.6 L1066.7 1127.3 L1069.0 1128.2 L1071.3 1123.3 L1073.6 1127.7 L1075.9 1121.3 L1078.2 1128.2 L1079.3 1122.3 L1080.5 1130.2 L1082.8 1127.5 L1085.5 1137.3 L1087.4 1130.3 L1089.7 1133.7 L1092.0 1126.9 L1094.3 1129.4 L1096.6 1122.9 L1098.9 1128.0 L1101.2 1120.7 L1104.2 1128.5 L1105.8 1124.6 L1108.1 1130.0 L1110.4 1127.8 L1112.7 1135.6 L1114.5 1133.6 L1117.3 1134.2 L1119.6 1127.0 L1121.9 1131.8 L1124.9 1122.2 L1126.5 1131.8 L1128.8 1125.5 L1131.1 1134.5 L1133.4 1128.3 L1135.7 1135.0 L1138.0 1132.3 L1140.3 1138.3 L1142.6 1131.3 L1144.9 1140.0 L1147.6 1132.0 L1149.5 1136.7 L1151.8 1128.0 L1154.1 1132.8 L1156.4 1123.3 L1158.0 1130.3 L1161.0 1123.0 L1163.3 1127.7 L1166.2 1123.7 L1167.9 1127.5 L1170.2 1122.6 L1172.5 1126.7 L1174.8 1122.2 L1176.6 1126.0 L1179.4 1119.8 L1181.7 1128.6 L1184.0 1122.1 L1186.9 1130.2 L1188.6 1125.6 L1190.9 1129.6 L1193.2 1125.2 L1195.2 1129.0 L1197.8 1125.2 L1200.1 1132.5 L1202.4 1128.8 L1203.5 1137.3 L1204.7 1131.1 L1207.0 1135.6 L1209.3 1127.9 L1211.6 1134.6 L1213.8 1129.0 L1216.2 1133.1 L1218.5 1131.4 L1220.8 1135.4 L1223.1 1137.9 L1225.4 1151.2 L1227.7 1147.0 L1230.0 1155.9 L1232.3 1151.8 L1234.6 1156.1 L1236.9 1154.3 L1239.2 1159.6 L1241.5 1157.0 L1243.8 1166.0 L1246.1 1161.3 L1249.0 1165.2 L1250.7 1159.1 L1253.0 1163.9 L1255.3 1156.9 L1257.6 1160.9 L1259.9 1150.2 L1262.2 1153.5 L1264.5 1145.9 L1266.8 1149.4 L1269.1 1141.7 L1271.4 1143.2 L1273.7 1133.2 L1276.0 1137.0 L1278.3 1123.3 L1280.6 1110.4 L1282.9 1088.5 L1285.2 1076.8 L1287.5 1059.2 L1289.8 1044.9 L1292.1 1026.7 L1294.4 1022.4 L1296.7 1012.0 L1299.0 1011.5 L1301.3 1003.3 L1302.8 1008.8 L1305.9 1008.4 L1308.2 1016.4 L1310.5 1016.0 L1312.8 1029.8 L1315.1 1032.0 L1317.4 1039.5 L1319.7 1037.6 L1322.0 1047.4 L1324.3 1045.0 L1326.6 1048.3 L1329.7 1044.2 L1331.2 1049.7 L1333.5 1041.8 L1335.8 1046.0 L1338.1 1041.4 L1340.4 1044.8 L1342.1 1040.0 L1345.0 1047.5 L1347.3 1042.3 L1349.6 1049.8 L1352.5 1045.4 L1354.2 1052.1 L1356.5 1042.3 L1358.8 1044.3 L1361.1 1035.7 L1363.4 1035.6 L1365.7 1024.3 L1368.0 1027.1 L1370.3 1020.8 L1373.2 1026.2 L1374.9 1022.1 L1377.2 1030.1 L1380.0 1024.4 L1381.8 1031.6 L1384.1 1026.2 L1386.4 1031.1 L1388.7 1020.9 L1391.0 1019.2 L1393.3 1008.6 L1396.6 1007.4 L1397.9 1002.2 L1400.2 1013.5 L1402.5 1012.4 L1404.8 1026.7 L1407.1 1036.0 L1409.4 1059.6 L1411.7 1068.7 L1414.0 1093.5 L1416.3 1098.1 L1418.6 1113.8 L1420.9 1116.9 L1423.2 1125.0 L1425.5 1125.4 L1427.8 1134.0 L1430.1 1136.8 L1432.4 1147.6 L1434.7 1142.9 L1437.0 1150.4 L1439.3 1147.1 L1441.6 1154.5 L1443.9 1152.5 L1446.2 1156.0 L1448.5 1155.2 L1450.4 1161.5 L1453.1 1152.7 L1455.4 1161.0 L1457.7 1155.2 L1460.0 1161.2 L1462.3 1154.0 L1464.6 1156.3 L1466.9 1151.5 L1469.0 1154.8 L1471.5 1149.6 L1473.8 1154.3 L1476.1 1149.8 L1477.3 1156.6 L1478.4 1150.5 L1480.7 1153.1 L1483.0 1149.3 L1485.3 1153.1 L1487.6 1144.4 L1489.9 1146.0 L1492.2 1139.8 L1494.5 1143.6 L1496.8 1133.2 L1499.1 1136.5 L1501.4 1124.6 L1503.7 1129.8 L1506.0 1125.3 L1508.3 1130.7 L1510.6 1122.2 L1512.9 1125.0 L1515.2 1119.5 L1516.6 1124.0 L1519.8 1117.5 L1522.8 1127.1 L1524.4 1120.4 L1526.7 1119.8 L1529.0 1115.4 L1531.3 1120.0 L1533.6 1118.4 L1535.9 1124.5 L1538.2 1124.3 L1540.5 1129.1 L1542.8 1125.1 L1545.1 1133.9 L1547.4 1135.1 L1548.6 1141.3 L1549.7 1131.6 L1552.0 1130.0 L1554.3 1120.8 L1556.6 1122.8 L1558.9 1117.8 L1562.1 1120.1 L1563.5 1117.4 L1565.8 1122.2 L1568.1 1115.9 L1570.4 1123.1 L1572.7 1119.8 L1575.0 1127.2 L1577.3 1122.8 L1579.6 1127.7 L1581.9 1124.0 L1584.2 1131.4 L1586.5 1124.8 L1588.8 1132.6 L1591.1 1130.1 L1593.4 1133.6 L1595.2 1128.9 L1598.0 1131.6 L1600.3 1127.1 L1602.6 1135.0 L1604.9 1127.2 L1607.2 1127.5 L1609.7 1119.5 L1611.8 1125.2 L1614.1 1125.1 L1615.1 1134.2" fill="none" stroke="#c80000" stroke-width="14.0" stroke-linejoin="round" stroke-linecap="round"/>
<path d="M1025.3 1180.1 L1027.6 1178.7 L1029.9 1179.1 L1032.2 1176.3 L1034.5 1176.3 L1036.8 1174.0 L1039.1 1175.1 L1041.4 1172.8 L1043.7 1173.2 L1046.2 1172.6 L1048.3 1174.4 L1050.6 1172.8 L1052.9 1178.7 L1055.2 1176.2 L1056.6 1180.2 L1059.8 1176.4 L1062.1 1178.7 L1064.4 1176.0 L1066.7 1178.4 L1069.0 1175.1 L1071.3 1177.0 L1073.6 1173.4 L1075.9 1173.8 L1078.2 1170.6 L1080.4 1172.1 L1082.8 1170.8 L1085.1 1177.0 L1087.6 1176.2 L1089.7 1176.9 L1092.0 1174.6 L1094.3 1175.9 L1096.6 1172.6 L1098.9 1175.4 L1100.0 1172.4 L1101.2 1174.0 L1103.5 1171.9 L1105.8 1175.4 L1108.1 1174.4 L1110.4 1176.9 L1112.7 1174.6 L1114.5 1176.0 L1117.3 1174.1 L1119.6 1175.8 L1121.9 1172.8 L1124.2 1174.2 L1126.5 1172.2 L1129.0 1174.9 L1131.1 1172.8 L1133.4 1175.9 L1135.7 1176.0 L1138.0 1179.1 L1139.3 1176.2 L1142.6 1174.6 L1145.5 1168.6 L1147.2 1171.3 L1149.5 1170.0 L1151.8 1173.8 L1154.1 1173.0 L1155.9 1174.8 L1158.7 1173.7 L1161.0 1174.7 L1163.3 1171.9 L1165.6 1174.1 L1167.9 1171.1 L1170.2 1173.4 L1172.5 1170.4 L1174.8 1171.7 L1177.1 1169.4 L1179.4 1172.3 L1180.7 1169.7 L1184.0 1173.6 L1186.3 1173.3 L1189.0 1178.4 L1190.9 1176.3 L1193.2 1178.8 L1195.5 1175.2 L1197.8 1177.2 L1200.1 1174.1 L1202.4 1174.6 L1204.7 1168.9 L1207.6 1169.8 L1209.3 1168.3 L1211.6 1171.7 L1213.9 1169.8 L1216.2 1173.8 L1218.5 1173.5 L1220.8 1178.4 L1223.1 1179.6 L1225.4 1184.9 L1227.7 1183.1 L1230.0 1186.9 L1232.3 1186.8 L1234.6 1189.9 L1236.9 1190.2 L1239.2 1191.7 L1241.5 1190.6 L1243.8 1193.4 L1246.9 1191.3 L1248.4 1193.8 L1250.7 1190.7 L1253.0 1193.5 L1255.3 1188.2 L1257.6 1191.9 L1259.9 1189.1 L1262.2 1190.0 L1264.5 1186.2 L1266.8 1187.6 L1269.1 1182.8 L1271.4 1183.4 L1273.7 1178.3 L1276.0 1177.3 L1278.3 1172.2 L1280.6 1169.0 L1282.9 1163.0 L1285.2 1159.7 L1287.5 1148.5 L1289.8 1135.2 L1292.1 1120.2 L1294.4 1112.1 L1296.7 1102.5 L1299.0 1098.6 L1301.3 1094.3 L1303.8 1096.5 L1305.9 1095.8 L1308.2 1101.3 L1310.5 1104.4 L1312.8 1111.1 L1315.1 1113.5 L1317.4 1119.9 L1319.7 1120.3 L1322.0 1125.4 L1324.3 1123.3 L1326.6 1127.2 L1327.6 1125.0 L1328.9 1126.0 L1331.2 1124.3 L1333.5 1124.8 L1335.8 1121.9 L1337.0 1123.5 L1338.1 1123.0 L1340.4 1124.1 L1342.7 1124.0 L1345.0 1126.4 L1347.3 1125.7 L1349.6 1128.0 L1351.9 1126.4 L1354.5 1129.1 L1356.5 1124.6 L1358.8 1123.1 L1361.1 1118.4 L1363.4 1115.8 L1365.7 1109.4 L1368.0 1108.9 L1370.3 1106.8 L1373.2 1108.8 L1374.9 1106.7 L1377.2 1109.7 L1380.0 1110.3 L1381.8 1112.0 L1384.1 1108.7 L1386.4 1109.9 L1388.7 1105.3 L1391.0 1103.3 L1393.3 1097.5 L1396.6 1096.4 L1397.9 1095.9 L1400.2 1102.0 L1402.5 1107.3 L1404.8 1123.8 L1407.1 1133.9 L1409.4 1146.6 L1411.7 1154.5 L1414.0 1163.1 L1416.3 1166.2 L1418.6 1172.0 L1420.9 1173.2 L1423.2 1178.8 L1425.5 1178.2 L1427.8 1182.2 L1430.1 1181.9 L1432.4 1185.1 L1434.7 1185.5 L1437.0 1188.0 L1439.3 1186.7 L1441.6 1189.2 L1443.9 1187.6 L1446.2 1190.2 L1448.5 1188.1 L1450.8 1191.6 L1453.1 1189.4 L1455.4 1191.0 L1456.6 1188.5 L1457.7 1192.0 L1460.0 1190.2 L1462.3 1189.6 L1464.6 1187.2 L1466.9 1189.6 L1469.2 1188.5 L1471.5 1189.2 L1473.8 1186.6 L1476.1 1188.8 L1478.4 1185.2 L1480.7 1187.4 L1483.0 1184.2 L1485.3 1186.2 L1487.6 1182.3 L1489.9 1184.5 L1492.2 1181.3 L1494.5 1182.9 L1496.8 1181.0 L1499.1 1183.4 L1501.4 1179.9 L1503.7 1180.6 L1506.2 1177.3 L1508.3 1178.8 L1510.6 1177.2 L1512.9 1180.2 L1515.2 1179.2 L1516.6 1181.5 L1519.8 1178.5 L1522.1 1180.4 L1524.4 1179.8 L1526.7 1180.2 L1529.0 1178.4 L1531.3 1181.1 L1533.6 1179.1 L1535.9 1179.2 L1538.2 1176.6 L1540.5 1177.3 L1542.8 1174.8 L1545.1 1175.1 L1547.4 1170.9 L1549.7 1173.0 L1552.0 1170.7 L1554.3 1173.0 L1556.6 1172.3 L1558.9 1176.5 L1560.0 1172.6 L1561.2 1176.9 L1563.5 1173.9 L1565.8 1174.1 L1568.1 1172.9 L1570.4 1173.7 L1572.7 1172.0 L1575.0 1174.5 L1577.3 1172.6 L1579.6 1174.4 L1580.7 1172.4 L1581.9 1173.6 L1584.9 1167.8 L1586.5 1170.6 L1588.8 1169.0 L1591.1 1173.2 L1593.1 1170.5 L1595.7 1173.4 L1598.0 1169.1 L1599.3 1171.0 L1602.6 1171.5 L1604.9 1173.9 L1607.2 1173.9 L1609.5 1176.1 L1611.8 1173.5 L1614.1 1176.7 L1615.1 1174.2" fill="none" stroke="#00aa00" stroke-width="14.0" stroke-linejoin="round" stroke-linecap="round"/>
<path d="M1025.3 1227.5 L1027.6 1226.7 L1029.9 1227.9 L1032.2 1226.8 L1034.5 1227.7 L1036.8 1226.9 L1039.1 1227.6 L1041.4 1226.5 L1043.7 1227.7 L1046.0 1227.1 L1048.3 1227.8 L1050.6 1227.2 L1052.9 1228.0 L1055.2 1227.3 L1057.5 1227.8 L1059.8 1226.9 L1062.1 1228.0 L1064.4 1227.2 L1066.7 1227.9 L1069.0 1227.6 L1071.3 1228.3 L1073.6 1226.9 L1075.9 1228.4 L1078.2 1227.4 L1080.5 1228.3 L1083.5 1227.4 L1085.1 1228.1 L1087.4 1227.2 L1089.7 1228.0 L1092.0 1226.5 L1094.3 1228.1 L1096.6 1227.1 L1098.9 1227.9 L1101.2 1227.5 L1103.5 1228.3 L1105.8 1226.6 L1108.1 1228.0 L1110.4 1227.1 L1112.7 1228.3 L1115.0 1226.8 L1117.3 1227.8 L1119.6 1227.2 L1121.9 1227.9 L1124.9 1227.0 L1126.5 1227.5 L1128.8 1227.0 L1131.1 1228.0 L1133.4 1227.0 L1135.7 1228.1 L1138.0 1227.3 L1140.3 1228.2 L1142.6 1227.8 L1144.9 1228.6 L1147.2 1227.6 L1149.5 1228.7 L1151.8 1227.9 L1154.1 1228.5 L1156.4 1228.1 L1158.7 1229.2 L1160.0 1228.1 L1163.3 1229.0 L1165.6 1227.3 L1167.9 1228.4 L1170.2 1227.7 L1172.5 1228.0 L1174.8 1226.9 L1177.1 1227.3 L1179.4 1226.4 L1181.7 1227.0 L1184.0 1225.7 L1186.9 1226.4 L1188.6 1226.0 L1190.9 1226.8 L1193.2 1226.0 L1195.5 1226.6 L1197.8 1226.0 L1200.1 1227.1 L1202.4 1225.9 L1204.7 1227.2 L1207.0 1226.5 L1209.3 1227.3 L1211.6 1226.6 L1213.9 1227.9 L1216.2 1227.0 L1218.5 1227.7 L1220.8 1227.2 L1223.1 1228.3 L1225.4 1227.7 L1227.7 1228.9 L1230.0 1227.9 L1232.3 1229.2 L1234.6 1228.8 L1236.9 1229.8 L1239.2 1229.5 L1241.5 1230.5 L1243.8 1229.8 L1244.9 1230.7 L1246.1 1230.2 L1248.4 1231.0 L1250.7 1230.0 L1253.0 1230.6 L1255.3 1229.6 L1257.6 1230.3 L1259.9 1229.5 L1262.2 1229.9 L1264.5 1228.5 L1266.8 1229.8 L1269.1 1228.8 L1271.4 1229.2 L1273.7 1228.5 L1276.0 1228.9 L1278.3 1227.7 L1280.6 1227.3 L1282.9 1226.0 L1285.2 1225.1 L1287.5 1222.3 L1289.8 1221.8 L1292.1 1218.9 L1294.4 1217.4 L1296.7 1213.3 L1299.0 1210.7 L1301.3 1205.0 L1303.6 1200.7 L1305.9 1194.3 L1308.2 1189.1 L1310.5 1179.8 L1312.8 1172.9 L1315.1 1165.3 L1317.4 1160.1 L1319.7 1154.0 L1322.0 1152.0 L1324.5 1149.9 L1326.6 1151.8 L1328.9 1153.2 L1331.2 1155.9 L1333.5 1156.7 L1335.8 1158.7 L1338.0 1157.8 L1340.4 1157.1 L1342.7 1153.5 L1345.0 1152.7 L1347.3 1149.3 L1349.6 1147.3 L1351.4 1146.2 L1354.2 1148.1 L1356.5 1149.2 L1358.8 1153.9 L1361.1 1161.3 L1363.4 1171.5 L1365.7 1176.6 L1368.0 1182.2 L1371.1 1184.4 L1372.6 1184.8 L1374.9 1182.5 L1377.2 1181.8 L1379.5 1179.7 L1381.8 1179.2 L1384.1 1176.8 L1386.2 1178.3 L1388.7 1181.2 L1391.0 1187.6 L1393.3 1191.6 L1395.6 1199.5 L1397.9 1204.8 L1400.2 1210.2 L1402.5 1212.7 L1404.8 1216.9 L1407.1 1218.7 L1409.4 1221.2 L1411.7 1222.5 L1414.0 1224.3 L1416.3 1224.3 L1418.6 1226.4 L1420.9 1226.3 L1423.2 1227.7 L1425.5 1227.2 L1427.8 1228.5 L1430.1 1228.0 L1432.4 1229.4 L1434.7 1228.7 L1437.0 1229.5 L1439.3 1228.9 L1441.6 1229.9 L1443.9 1229.2 L1446.2 1230.6 L1448.5 1229.6 L1450.8 1230.7 L1453.1 1229.9 L1455.4 1230.9 L1457.7 1229.9 L1460.0 1231.0 L1462.8 1230.2 L1464.6 1230.8 L1466.9 1230.4 L1469.2 1230.7 L1471.5 1229.9 L1473.8 1230.8 L1476.1 1229.7 L1478.4 1230.4 L1480.7 1229.1 L1483.0 1230.2 L1485.3 1229.0 L1487.6 1229.7 L1489.9 1228.8 L1492.2 1229.3 L1494.5 1228.4 L1496.8 1229.3 L1499.1 1228.1 L1501.4 1229.0 L1503.7 1228.2 L1506.0 1228.7 L1508.3 1227.5 L1510.6 1228.2 L1512.9 1227.5 L1515.2 1228.1 L1517.5 1227.2 L1519.8 1227.9 L1522.1 1226.9 L1524.9 1228.0 L1526.7 1226.6 L1529.0 1227.7 L1531.3 1226.8 L1533.6 1227.7 L1535.9 1226.7 L1538.2 1227.6 L1540.5 1227.0 L1542.8 1228.0 L1545.1 1226.5 L1547.4 1227.8 L1549.7 1227.0 L1552.0 1227.8 L1554.3 1227.0 L1556.6 1227.7 L1558.9 1226.8 L1561.2 1227.8 L1563.5 1226.8 L1565.8 1228.1 L1568.1 1226.7 L1570.4 1227.8 L1572.7 1227.2 L1575.0 1228.0 L1577.3 1227.2 L1579.6 1227.9 L1581.9 1226.8 L1584.2 1228.3 L1586.9 1227.2 L1588.8 1228.4 L1591.1 1227.3 L1593.4 1228.2 L1595.7 1227.0 L1598.0 1227.8 L1600.3 1227.1 L1602.6 1228.3 L1604.9 1226.9 L1607.2 1227.8 L1609.5 1226.6 L1611.8 1227.9 L1614.1 1227.2 L1615.1 1227.7" fill="none" stroke="#0000b0" stroke-width="14.0" stroke-linejoin="round" stroke-linecap="round"/>
<path d="M1025.3 1418.3 L1027.6 1417.3 L1029.9 1418.3 L1032.2 1417.2 L1034.5 1417.6 L1036.8 1416.8 L1039.1 1417.5 L1041.4 1416.7 L1043.7 1417.3 L1046.0 1416.0 L1048.3 1416.9 L1050.6 1416.2 L1052.9 1416.9 L1055.2 1415.7 L1056.6 1416.7 L1059.8 1416.0 L1062.1 1416.8 L1064.4 1416.3 L1066.7 1417.6 L1069.0 1416.9 L1071.3 1418.1 L1073.1 1417.2 L1075.9 1417.6 L1078.2 1417.1 L1080.5 1417.8 L1082.8 1416.9 L1085.1 1417.0 L1087.4 1415.7 L1089.7 1416.7 L1091.7 1415.8 L1094.3 1416.8 L1096.6 1416.1 L1098.9 1417.6 L1101.2 1416.7 L1103.5 1418.2 L1105.8 1417.6 L1108.3 1419.0 L1110.4 1417.9 L1112.7 1418.6 L1115.0 1417.4 L1117.3 1418.5 L1119.6 1417.0 L1121.9 1417.6 L1124.9 1417.0 L1126.5 1417.3 L1128.8 1417.2 L1131.1 1417.5 L1133.4 1417.0 L1135.7 1418.2 L1138.0 1417.2 L1140.3 1417.9 L1142.6 1417.3 L1145.5 1418.0 L1147.2 1416.9 L1149.5 1418.1 L1151.8 1417.2 L1154.1 1417.5 L1156.4 1416.8 L1158.7 1417.4 L1161.0 1416.3 L1163.3 1416.6 L1165.6 1415.8 L1167.9 1416.7 L1170.2 1415.3 L1172.5 1415.6 L1174.8 1415.3 L1177.1 1415.7 L1179.4 1414.5 L1181.7 1415.2 L1184.0 1413.7 L1186.3 1414.6 L1189.0 1413.9 L1190.9 1414.7 L1193.2 1413.5 L1195.5 1414.7 L1197.8 1414.2 L1200.1 1414.8 L1202.4 1414.6 L1204.7 1415.5 L1207.0 1414.9 L1209.3 1416.3 L1211.6 1415.2 L1213.9 1416.6 L1216.2 1416.0 L1218.5 1417.7 L1220.8 1416.9 L1223.1 1418.3 L1225.4 1418.1 L1227.7 1420.3 L1230.0 1420.3 L1232.3 1422.2 L1234.6 1422.3 L1236.6 1423.8 L1239.2 1423.9 L1241.5 1424.3 L1243.8 1423.6 L1246.1 1424.0 L1248.4 1423.1 L1250.7 1423.7 L1253.0 1422.4 L1255.3 1423.2 L1257.6 1421.7 L1259.9 1421.7 L1262.2 1420.1 L1264.5 1420.3 L1266.8 1418.8 L1269.1 1418.9 L1271.4 1416.8 L1273.7 1416.8 L1276.0 1414.3 L1278.3 1414.7 L1280.6 1412.5 L1282.9 1412.1 L1285.2 1410.0 L1287.5 1407.1 L1289.8 1401.8 L1292.1 1397.4 L1294.4 1390.4 L1296.7 1383.3 L1299.0 1372.8 L1301.3 1363.1 L1303.6 1349.1 L1305.9 1334.9 L1308.2 1317.8 L1310.5 1300.3 L1312.8 1281.3 L1315.1 1263.2 L1317.4 1243.8 L1319.7 1228.9 L1322.0 1215.0 L1324.3 1196.9 L1325.6 1190.1 L1326.6 1194.6 L1328.9 1207.4 L1331.2 1220.3 L1333.5 1231.4 L1335.8 1242.7 L1338.1 1249.6 L1340.4 1253.2 L1342.7 1253.3 L1344.2 1254.3 L1347.3 1245.1 L1349.6 1235.9 L1352.5 1224.7 L1354.2 1226.7 L1356.5 1230.9 L1358.8 1243.5 L1361.1 1265.0 L1363.4 1289.2 L1365.7 1312.1 L1368.0 1332.5 L1370.1 1342.3 L1372.6 1338.0 L1374.9 1330.5 L1377.2 1326.9 L1380.0 1321.8 L1381.8 1321.8 L1384.1 1321.8 L1386.4 1325.5 L1388.7 1328.9 L1391.0 1337.9 L1393.3 1349.9 L1395.6 1363.8 L1397.9 1375.8 L1400.2 1388.4 L1402.5 1397.5 L1404.8 1403.7 L1407.1 1407.3 L1409.4 1412.1 L1411.7 1413.9 L1414.0 1416.9 L1416.3 1417.4 L1418.6 1419.5 L1420.9 1419.6 L1423.2 1421.1 L1425.5 1420.6 L1427.8 1422.0 L1430.1 1421.6 L1432.4 1423.3 L1434.7 1422.4 L1437.0 1423.5 L1439.3 1422.3 L1441.6 1423.5 L1443.9 1422.9 L1446.2 1423.2 L1448.5 1422.7 L1450.8 1423.8 L1452.4 1422.9 L1455.4 1423.5 L1457.7 1422.7 L1460.0 1423.5 L1462.3 1422.2 L1464.6 1423.2 L1466.9 1422.5 L1469.2 1423.3 L1471.5 1422.2 L1473.8 1422.7 L1476.1 1422.2 L1478.4 1422.6 L1480.7 1421.6 L1483.0 1422.6 L1485.3 1422.0 L1487.6 1422.3 L1489.9 1421.4 L1492.2 1422.2 L1494.5 1420.8 L1496.8 1421.3 L1499.1 1419.7 L1501.4 1420.3 L1503.7 1419.0 L1506.0 1419.2 L1508.3 1417.9 L1510.6 1418.1 L1512.9 1417.0 L1515.2 1417.6 L1517.5 1416.5 L1519.8 1417.2 L1522.1 1415.9 L1524.4 1416.6 L1526.7 1415.4 L1529.0 1416.4 L1531.3 1415.2 L1533.6 1416.5 L1535.9 1414.7 L1538.2 1415.8 L1540.5 1414.8 L1542.8 1416.2 L1545.5 1414.6 L1547.4 1415.6 L1549.7 1415.0 L1552.0 1416.0 L1554.3 1415.4 L1556.6 1416.0 L1558.9 1415.3 L1561.2 1416.4 L1563.5 1415.8 L1565.8 1417.0 L1568.1 1416.2 L1570.4 1417.0 L1572.7 1416.0 L1575.0 1416.8 L1577.3 1416.5 L1579.6 1417.5 L1581.9 1416.6 L1584.2 1417.5 L1586.5 1417.0 L1588.8 1417.9 L1591.1 1417.0 L1593.4 1418.1 L1595.7 1417.0 L1598.0 1418.3 L1599.3 1417.3 L1602.6 1417.4 L1604.9 1415.1 L1607.6 1415.5 L1609.5 1415.0 L1611.8 1416.2 L1614.1 1416.4 L1615.1 1417.7" fill="none" stroke="#3a3a3a" stroke-width="14.0" stroke-linejoin="round" stroke-linecap="round"/>
<path d="M1025.3 1439.5 L1027.6 1439.4 L1029.9 1440.0 L1032.2 1439.1 L1034.5 1439.9 L1036.8 1439.3 L1039.1 1439.7 L1041.4 1439.1 L1043.7 1439.5 L1046.0 1438.7 L1048.3 1439.7 L1050.6 1438.9 L1052.9 1439.4 L1055.2 1438.7 L1057.5 1439.7 L1059.8 1438.6 L1062.8 1439.2 L1064.4 1438.6 L1066.7 1439.1 L1069.0 1438.6 L1071.3 1439.2 L1073.6 1438.6 L1075.9 1439.5 L1078.2 1438.7 L1080.5 1439.2 L1082.8 1438.5 L1085.1 1439.6 L1087.4 1438.6 L1089.7 1439.3 L1092.0 1438.2 L1094.3 1439.1 L1096.6 1438.5 L1098.9 1439.5 L1101.2 1438.5 L1103.5 1439.3 L1105.8 1438.8 L1108.1 1439.4 L1110.4 1438.7 L1112.7 1439.4 L1115.0 1438.8 L1117.3 1439.7 L1119.6 1439.2 L1121.9 1440.0 L1124.2 1439.3 L1126.5 1440.0 L1128.8 1439.4 L1131.1 1440.0 L1133.4 1439.4 L1135.7 1440.2 L1138.0 1439.5 L1140.3 1440.5 L1142.6 1439.8 L1144.9 1440.5 L1147.2 1439.8 L1149.7 1440.4 L1151.8 1439.9 L1154.1 1440.1 L1156.4 1439.7 L1158.7 1440.3 L1161.0 1439.4 L1163.3 1439.9 L1165.6 1438.9 L1167.9 1439.8 L1170.2 1438.8 L1172.5 1439.2 L1174.8 1438.7 L1177.1 1439.2 L1179.4 1438.2 L1181.7 1438.9 L1184.0 1438.1 L1186.9 1438.7 L1188.6 1438.1 L1190.9 1438.5 L1193.2 1438.0 L1195.5 1439.1 L1197.8 1438.1 L1200.1 1438.8 L1202.4 1438.1 L1204.7 1439.0 L1207.0 1438.4 L1209.3 1439.0 L1211.6 1438.3 L1213.9 1439.2 L1216.2 1438.8 L1218.5 1439.1 L1220.8 1438.7 L1223.1 1439.2 L1225.4 1438.7 L1228.3 1439.3 L1230.0 1438.7 L1232.3 1439.1 L1234.6 1438.8 L1236.9 1439.3 L1239.2 1438.7 L1241.5 1439.0 L1243.8 1438.6 L1246.1 1439.0 L1248.4 1438.1 L1250.7 1438.8 L1253.0 1438.1 L1255.3 1438.8 L1257.6 1437.7 L1259.9 1438.1 L1262.2 1437.5 L1264.5 1437.7 L1266.8 1437.3 L1269.1 1437.7 L1271.4 1436.8 L1273.7 1436.9 L1276.0 1436.2 L1278.3 1436.3 L1280.6 1435.6 L1282.9 1435.5 L1285.2 1434.5 L1287.5 1434.3 L1289.8 1432.9 L1292.1 1433.1 L1294.4 1431.4 L1296.7 1430.9 L1299.0 1429.2 L1301.3 1428.5 L1303.6 1426.6 L1305.9 1425.6 L1308.2 1423.2 L1310.5 1421.9 L1312.8 1419.5 L1315.1 1417.4 L1317.4 1415.3 L1319.7 1414.1 L1322.5 1412.5 L1324.3 1413.7 L1326.6 1414.3 L1328.9 1416.9 L1331.2 1417.9 L1333.5 1420.5 L1335.8 1421.9 L1338.1 1423.9 L1340.4 1423.8 L1342.7 1424.7 L1345.0 1424.0 L1346.3 1424.8 L1347.3 1424.1 L1349.6 1424.6 L1351.9 1423.8 L1354.5 1424.2 L1356.5 1424.5 L1358.8 1426.6 L1361.1 1427.3 L1363.4 1429.2 L1365.7 1429.2 L1368.0 1430.7 L1370.3 1430.7 L1372.6 1431.8 L1374.9 1431.5 L1377.2 1432.8 L1379.5 1432.3 L1381.8 1433.4 L1384.1 1432.9 L1386.4 1433.9 L1388.7 1434.1 L1391.0 1434.9 L1393.3 1434.7 L1395.6 1435.8 L1397.9 1435.9 L1400.2 1436.7 L1402.5 1436.9 L1404.8 1437.8 L1407.1 1437.3 L1409.4 1438.2 L1411.7 1437.6 L1414.0 1438.8 L1416.3 1438.0 L1418.6 1438.8 L1420.9 1438.2 L1423.2 1438.9 L1425.5 1438.3 L1427.8 1439.2 L1430.1 1438.9 L1432.4 1439.0 L1434.7 1438.9 L1437.0 1439.6 L1439.3 1438.9 L1441.6 1439.7 L1443.9 1439.1 L1446.2 1439.4 L1448.5 1438.9 L1450.8 1439.6 L1453.1 1438.8 L1455.4 1440.0 L1457.7 1439.2 L1460.0 1440.2 L1462.3 1439.4 L1464.6 1440.1 L1466.9 1439.4 L1469.2 1440.1 L1471.5 1439.6 L1473.8 1440.2 L1476.1 1439.3 L1478.4 1440.5 L1480.7 1439.8 L1483.0 1440.4 L1485.3 1439.4 L1487.6 1440.3 L1489.9 1439.3 L1492.2 1440.3 L1493.8 1439.7 L1496.8 1440.2 L1499.1 1439.2 L1501.4 1440.4 L1503.7 1439.8 L1506.0 1440.6 L1508.3 1439.6 L1510.6 1440.3 L1512.9 1439.7 L1515.2 1439.9 L1517.5 1439.6 L1519.8 1440.0 L1522.1 1439.4 L1524.9 1439.9 L1526.7 1439.4 L1529.0 1439.9 L1531.3 1439.7 L1533.6 1440.0 L1535.9 1439.4 L1538.2 1439.8 L1540.5 1439.2 L1542.8 1440.6 L1545.1 1439.3 L1547.4 1440.5 L1549.7 1439.6 L1552.0 1440.4 L1554.3 1439.7 L1555.9 1440.2 L1558.9 1439.7 L1561.2 1440.4 L1563.5 1439.5 L1565.8 1440.4 L1568.1 1439.8 L1570.4 1440.4 L1572.7 1439.6 L1575.0 1440.4 L1577.3 1439.4 L1579.6 1439.8 L1581.9 1439.1 L1584.2 1440.0 L1586.5 1439.3 L1588.8 1440.1 L1591.1 1439.4 L1593.4 1439.7 L1595.7 1439.2 L1598.0 1439.8 L1600.3 1439.0 L1602.6 1439.6 L1604.9 1439.2 L1607.2 1439.6 L1609.5 1438.9 L1611.8 1439.6 L1614.1 1438.7 L1615.1 1439.4" fill="none" stroke="#c80000" stroke-width="14.0" stroke-linejoin="round" stroke-linecap="round"/>
<rect x="200.8" y="101.4" width="765.0" height="620.0" fill="none" stroke="#000" stroke-width="5.0"/>
<line x1="289.5" y1="721.9" x2="289.5" y2="733.0" stroke="#000" stroke-width="4.8"/>
<line x1="599.8" y1="721.9" x2="599.8" y2="733.0" stroke="#000" stroke-width="4.8"/>
<line x1="870.5" y1="721.9" x2="870.5" y2="733.0" stroke="#000" stroke-width="4.8"/>
<text x="294.0" y="793.5" class="tl">570</text>
<text x="873.6" y="793.5" class="tl">610</text>
<text x="909.0" y="221.0" class="cl">(a1)</text>
<text x="909.0" y="289.2" class="cl">(a2)</text>
<text x="909.0" y="433.7" class="cl">(a3)</text>
<text x="909.0" y="536.1" class="cl">(a4)</text>
<text x="909.0" y="618.9" class="cl">(a5)</text>
<text x="909.0" y="688.2" class="cl">(a6)</text>
<rect x="987.7" y="100.8" width="764.0" height="620.2" fill="none" stroke="#000" stroke-width="5.0"/>
<line x1="1077.3" y1="721.5" x2="1077.3" y2="734.0" stroke="#000" stroke-width="4.8"/>
<line x1="1388.0" y1="721.5" x2="1388.0" y2="734.0" stroke="#000" stroke-width="4.8"/>
<line x1="1658.9" y1="721.5" x2="1658.9" y2="734.0" stroke="#000" stroke-width="4.8"/>
<text x="1083.8" y="793.5" class="tl">570</text>
<text x="1665.0" y="793.5" class="tl">610</text>
<text x="1693.5" y="220.9" class="cl">(b1)</text>
<text x="1693.5" y="279.9" class="cl">(b2)</text>
<text x="1693.5" y="352.3" class="cl">(b3)</text>
<text x="1693.5" y="444.0" class="cl">(b4)</text>
<text x="1693.5" y="609.5" class="cl">(b5)</text>
<text x="1693.5" y="691.3" class="cl">(b6)</text>
<rect x="201.5" y="907.4" width="764.3" height="559.8" fill="none" stroke="#000" stroke-width="5.0"/>
<line x1="287.3" y1="1467.7" x2="287.3" y2="1480.8" stroke="#000" stroke-width="4.8"/>
<line x1="597.7" y1="1467.7" x2="597.7" y2="1480.8" stroke="#000" stroke-width="4.8"/>
<line x1="868.3" y1="1467.7" x2="868.3" y2="1480.8" stroke="#000" stroke-width="4.8"/>
<text x="294.0" y="1542.8" class="tl">570</text>
<text x="873.5" y="1542.8" class="tl">610</text>
<text x="910.5" y="974.4" class="cl">(c1)</text>
<text x="910.5" y="1084.1" class="cl">(c2)</text>
<text x="910.5" y="1187.5" class="cl">(c3)</text>
<text x="910.5" y="1305.1" class="cl">(c4)</text>
<text x="910.5" y="1373.4" class="cl">(c5)</text>
<text x="910.5" y="1438.5" class="cl">(c6)</text>
<rect x="987.7" y="907.4" width="764.1" height="559.9" fill="none" stroke="#000" stroke-width="5.0"/>
<line x1="1092.5" y1="1467.8" x2="1092.5" y2="1480.2" stroke="#000" stroke-width="4.8"/>
<line x1="1403.0" y1="1467.8" x2="1403.0" y2="1480.2" stroke="#000" stroke-width="4.8"/>
<line x1="1673.8" y1="1467.8" x2="1673.8" y2="1480.2" stroke="#000" stroke-width="4.8"/>
<text x="1099.4" y="1542.5" class="tl">570</text>
<text x="1680.0" y="1542.5" class="tl">610</text>
<text x="1689.3" y="980.6" class="cl">(d1)</text>
<text x="1689.3" y="1089.2" class="cl">(d2)</text>
<text x="1689.3" y="1165.8" class="cl">(d3)</text>
<text x="1689.3" y="1239.9" class="cl">(d4)</text>
<text x="1689.3" y="1379.5" class="cl">(d5)</text>
<text x="1689.3" y="1443.7" class="cl">(d6)</text>
<text class="ax" transform="translate(156.6 613.8) rotate(-90)" textLength="341" lengthAdjust="spacingAndGlyphs">Intensity</text>
<text class="ax" transform="translate(156.6 1360.8) rotate(-90)" textLength="341" lengthAdjust="spacingAndGlyphs">Intensity</text>
<text class="wl" x="1122.3" y="851.6" textLength="513" lengthAdjust="spacingAndGlyphs">Wavelength(nm)</text>
<text class="wl" x="1139" y="1622.7" textLength="515" lengthAdjust="spacingAndGlyphs">Wavelength(nm)</text>
<text class="pm" x="349.5" y="142.3">-</text>
<text class="pm" x="368.7" y="142.3">-</text>
<text class="pm" x="460.6" y="201.3">-</text>
<text class="pm" x="483.9" y="200.1">+</text>
<text class="pm" x="533.8" y="154.1">+</text>
<text class="pm" x="566.4" y="162.8">-</text>
<text class="pm" x="537.3" y="284.2">-</text>
<text class="pm" x="557.4" y="301.6">+</text>
<text class="pm" x="624.4" y="200.1">+</text>
<text class="pm" x="664.3" y="201.3">-</text>
<text class="pm" x="760.8" y="149.9">+</text>
<text class="pm" x="803.8" y="149.9">+</text>
<line x1="429.3" y1="189.9" x2="409.6" y2="164.1" stroke="#000" stroke-width="5.6"/><polygon points="389.0,135.6 424.0,153.5 395.3,174.6" fill="#000"/>
<line x1="719.4" y1="196.5" x2="747.6" y2="168.6" stroke="#000" stroke-width="5.6"/><polygon points="772.0,143.3 734.8,156.8 760.5,180.3" fill="#000"/>
</svg>
</body></html>
